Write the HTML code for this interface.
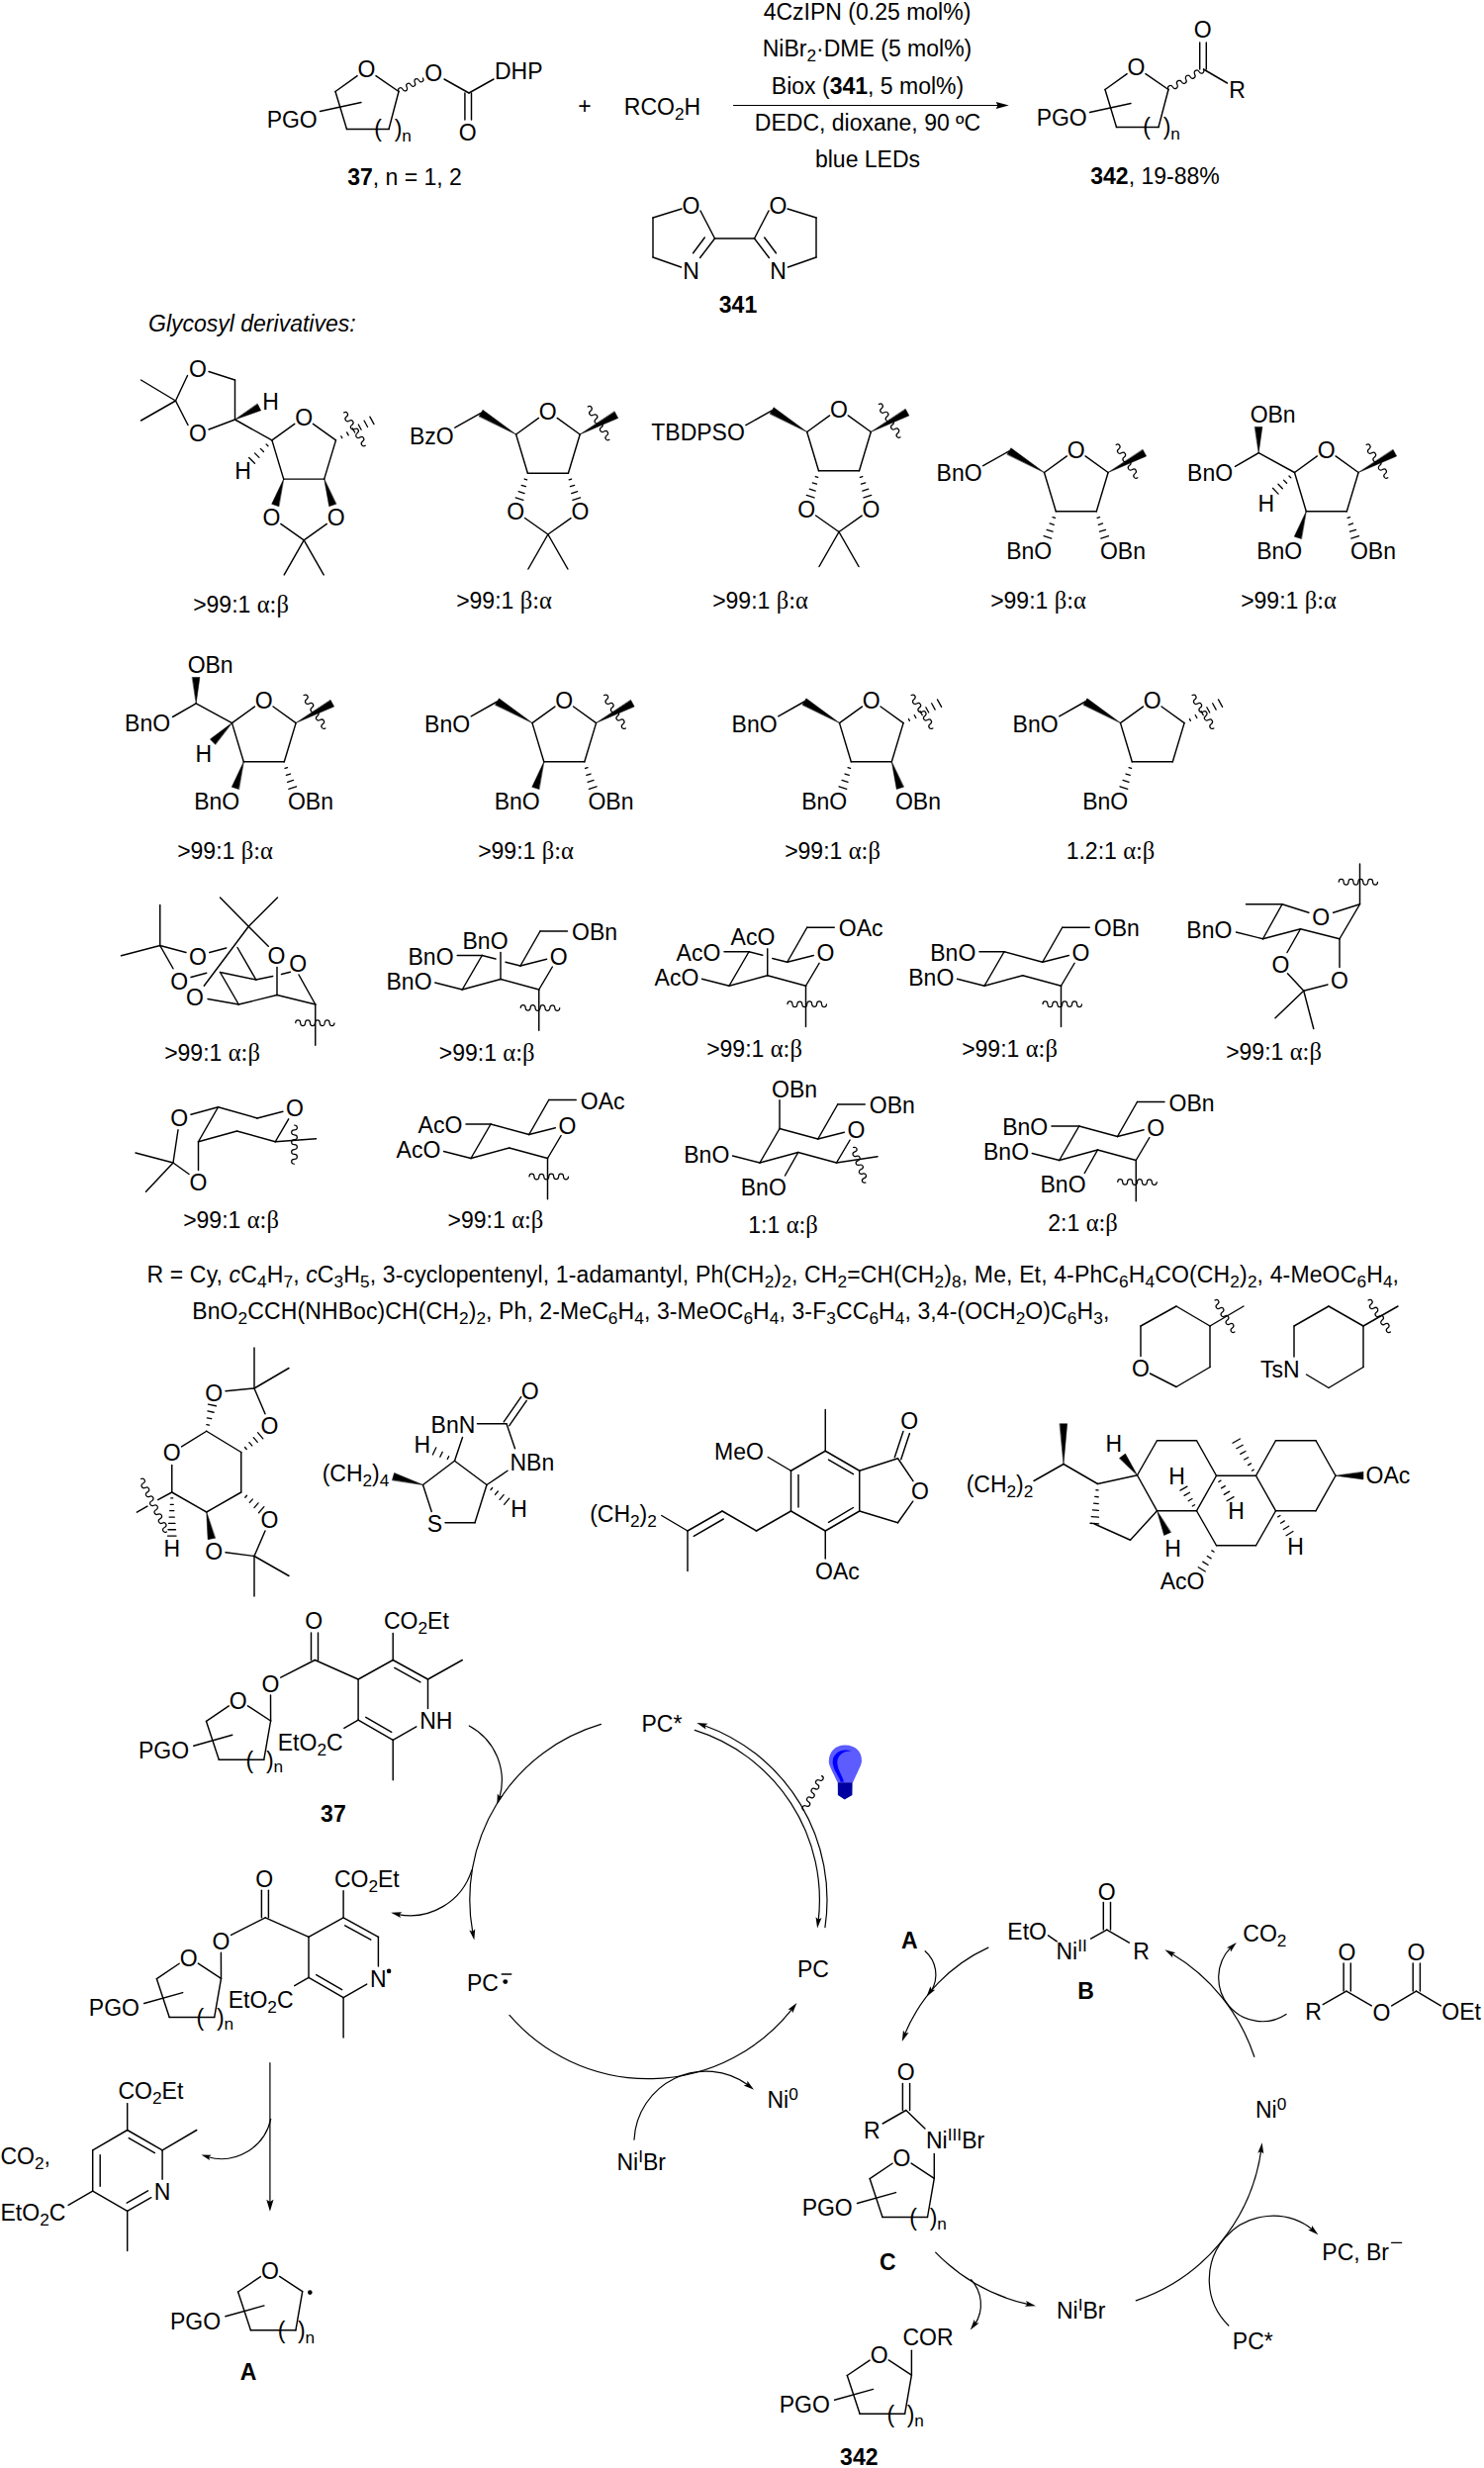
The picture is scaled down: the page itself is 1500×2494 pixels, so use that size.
<!DOCTYPE html>
<html><head><meta charset="utf-8"><title>Scheme</title><style>html,body{margin:0;padding:0;background:#fff}svg{display:block}</style></head><body>
<svg width="1500" height="2494" viewBox="0 0 1500 2494" font-family="'Liberation Sans', sans-serif" font-size="23" fill="#000" stroke="#000" stroke-width="1.45" stroke-linecap="round">
<text stroke="none" x="370.5" y="78.3" text-anchor="middle">O</text>
<line x1="379.96" y1="76.55" x2="403" y2="92.5"/>
<line x1="403" y1="92.5" x2="393" y2="130.5"/>
<line x1="393" y1="130.5" x2="350.5" y2="130.5"/>
<line x1="350.5" y1="130.5" x2="339" y2="92.5"/>
<line x1="339" y1="92.5" x2="361.14" y2="76.68"/>
<line x1="323.5" y1="112.5" x2="365" y2="103.5"/>
<text stroke="none" x="295.2" y="128.7" text-anchor="middle">PGO</text>
<text stroke="none" x="378.3" y="138.3">(</text>
<text stroke="none" x="398.7" y="138.3">)</text>
<text stroke="none" x="406.2" y="142.6" font-size="17.25">n</text>
<path d="M403 92.5 A2.33 2.85 -28.86 0 1 407.08 90.25 A2.33 2.85 -28.86 0 0 411.17 88 A2.33 2.85 -28.86 0 1 415.25 85.75 A2.33 2.85 -28.86 0 0 419.33 83.5 A2.33 2.85 -28.86 0 1 423.42 81.25 A2.33 2.85 -28.86 0 0 427.5 79" fill="none" stroke-width="1.2"/>
<text stroke="none" x="438.3" y="81.8" text-anchor="middle">O</text>
<line x1="449" y1="80" x2="474" y2="94"/>
<line x1="469.9" y1="94" x2="469.9" y2="121"/>
<line x1="476.5" y1="94" x2="476.5" y2="121"/>
<text stroke="none" x="472.7" y="142.3" text-anchor="middle">O</text>
<line x1="474" y1="94" x2="499" y2="80"/>
<text stroke="none" x="500" y="80.2">DHP</text>
<text stroke="none" x="409" y="187.3" text-anchor="middle"><tspan font-weight="bold" dy="0">37</tspan>, n = 1, 2</text>
<text stroke="none" x="591" y="115" text-anchor="middle">+</text>
<text stroke="none" x="669.5" y="116" text-anchor="middle">RCO<tspan font-size="17.25" dy="5">2</tspan><tspan dy="-5">H</tspan></text>
<line x1="741.5" y1="106.5" x2="1010" y2="106.5" stroke-width="1.2"/>
<polygon points="1019.8,106.5 1006.7,110.1 1008.4,106.5 1006.7,102.9" fill="#000" stroke="none"/>
<text stroke="none" x="876.5" y="20" text-anchor="middle">4CzIPN (0.25 mol%)</text>
<text stroke="none" x="876.5" y="57.4" text-anchor="middle">NiBr<tspan font-size="17.25" dy="5">2</tspan><tspan dy="-5">·DME (5 mol%)</tspan></text>
<text stroke="none" x="877" y="95.4" text-anchor="middle">Biox (<tspan font-weight="bold" dy="0">341</tspan>, 5 mol%)</text>
<text stroke="none" x="877" y="131.5" text-anchor="middle">DEDC, dioxane, 90 ºC</text>
<text stroke="none" x="877" y="169" text-anchor="middle">blue LEDs</text>
<text stroke="none" x="1148.5" y="76.3" text-anchor="middle">O</text>
<line x1="1157.96" y1="74.55" x2="1181" y2="90.5"/>
<line x1="1181" y1="90.5" x2="1171" y2="128.5"/>
<line x1="1171" y1="128.5" x2="1128.5" y2="128.5"/>
<line x1="1128.5" y1="128.5" x2="1117" y2="90.5"/>
<line x1="1117" y1="90.5" x2="1139.14" y2="74.68"/>
<line x1="1101.5" y1="113.5" x2="1143" y2="104.5"/>
<text stroke="none" x="1073.2" y="126.7" text-anchor="middle">PGO</text>
<text stroke="none" x="1155.3" y="136.3">(</text>
<text stroke="none" x="1175.7" y="136.3">)</text>
<text stroke="none" x="1183.2" y="140.6" font-size="17.25">n</text>
<path d="M1181 90.5 A2.56 2.85 -30 0 1 1185.44 87.94 A2.56 2.85 -30 0 0 1189.88 85.38 A2.56 2.85 -30 0 1 1194.31 82.81 A2.56 2.85 -30 0 0 1198.75 80.25 A2.56 2.85 -30 0 1 1203.19 77.69 A2.56 2.85 -30 0 0 1207.62 75.12 A2.56 2.85 -30 0 1 1212.06 72.56 A2.56 2.85 -30 0 0 1216.5 70" fill="none" stroke-width="1.2"/>
<line x1="1219.3" y1="70" x2="1219.3" y2="43"/>
<line x1="1212.7" y1="70" x2="1212.7" y2="43"/>
<text stroke="none" x="1215.8" y="38.3" text-anchor="middle">O</text>
<line x1="1216.5" y1="70" x2="1240.5" y2="84"/>
<text stroke="none" x="1250.5" y="98.5" text-anchor="middle">R</text>
<text stroke="none" x="1167.5" y="186" text-anchor="middle"><tspan font-weight="bold" dy="0">342</tspan>, 19-88%</text>
<text stroke="none" x="698.5" y="215.8" text-anchor="middle">O</text>
<text stroke="none" x="698.5" y="282.3" text-anchor="middle">N</text>
<text stroke="none" x="786.5" y="215.8" text-anchor="middle">O</text>
<text stroke="none" x="786.5" y="282.3" text-anchor="middle">N</text>
<line x1="722.5" y1="241" x2="762.5" y2="241"/>
<line x1="708" y1="213" x2="722.5" y2="241"/>
<line x1="689" y1="211" x2="660" y2="220"/>
<line x1="660" y1="220" x2="660" y2="260"/>
<line x1="660" y1="260" x2="688.5" y2="270"/>
<line x1="722.5" y1="241" x2="707.6" y2="260.5"/>
<line x1="712.3" y1="240" x2="700.6" y2="255.8"/>
<line x1="777" y1="213" x2="762.5" y2="241"/>
<line x1="796" y1="211" x2="825" y2="220"/>
<line x1="825" y1="220" x2="825" y2="260"/>
<line x1="825" y1="260" x2="796.5" y2="270"/>
<line x1="762.5" y1="241" x2="777.4" y2="260.5"/>
<line x1="772.7" y1="240" x2="784.4" y2="255.8"/>
<text stroke="none" x="746" y="316" text-anchor="middle" font-weight="bold">341</text>
<text stroke="none" x="150" y="335.3" font-style="italic">Glycosyl derivatives:</text>
<line x1="297.78" y1="428.34" x2="274.9" y2="444.9"/>
<line x1="316.44" y1="428.31" x2="339.5" y2="444.9"/>
<text stroke="none" x="307.1" y="429.9" text-anchor="middle">O</text>
<line x1="339.5" y1="444.9" x2="327.7" y2="484.1"/>
<line x1="327.7" y1="484.1" x2="286.7" y2="484.1"/>
<line x1="286.7" y1="484.1" x2="274.9" y2="444.9"/>
<polygon points="286.7,484.1 274.68,509.37 281.72,511.63" fill="#000" stroke="#000" stroke-width="0.5" stroke-linejoin="round"/>
<polygon points="327.7,484.1 332.68,511.63 339.72,509.37" fill="#000" stroke="#000" stroke-width="0.5" stroke-linejoin="round"/>
<text stroke="none" x="274.4" y="531.1" text-anchor="middle">O</text>
<text stroke="none" x="339.7" y="531.1" text-anchor="middle">O</text>
<line x1="283.8" y1="529.42" x2="307.2" y2="545.9"/>
<line x1="330.33" y1="529.46" x2="307.2" y2="545.9"/>
<line x1="307.2" y1="545.9" x2="287.2" y2="580.9"/>
<line x1="307.2" y1="545.9" x2="327.2" y2="580.9"/>
<line x1="345.79" y1="442.65" x2="344.77" y2="440.8" stroke-width="1.3"/>
<line x1="352.24" y1="439.85" x2="350.59" y2="436.86" stroke-width="1.3"/>
<line x1="358.68" y1="437.06" x2="356.42" y2="432.93" stroke-width="1.3"/>
<line x1="365.13" y1="434.26" x2="362.24" y2="429" stroke-width="1.3"/>
<line x1="371.57" y1="431.46" x2="368.06" y2="425.06" stroke-width="1.3"/>
<line x1="378.01" y1="428.66" x2="373.88" y2="421.13" stroke-width="1.3"/>
<path d="M347.5 416.9 A2.49 2.85 56.79 0 1 350.23 421.06 A2.49 2.85 56.79 0 0 352.95 425.22 A2.49 2.85 56.79 0 1 355.68 429.39 A2.49 2.85 56.79 0 0 358.4 433.55 A2.49 2.85 56.79 0 1 361.12 437.71 A2.49 2.85 56.79 0 0 363.85 441.88 A2.49 2.85 56.79 0 1 366.57 446.04 A2.49 2.85 56.79 0 0 369.3 450.2" fill="none" stroke-width="1.2"/>
<line x1="237.5" y1="424" x2="274.9" y2="444.9"/>
<line x1="269.1" y1="448.86" x2="270.97" y2="450.72" stroke-width="1.3"/>
<line x1="263.29" y1="453.38" x2="266.47" y2="456.55" stroke-width="1.3"/>
<line x1="257.49" y1="457.91" x2="261.98" y2="462.37" stroke-width="1.3"/>
<line x1="251.68" y1="462.43" x2="257.48" y2="468.2" stroke-width="1.3"/>
<text stroke="none" x="245.5" y="484.3" text-anchor="middle">H</text>
<polygon points="237.5,424 263.68,414.8 260.32,408.2" fill="#000" stroke="#000" stroke-width="0.5" stroke-linejoin="round"/>
<text stroke="none" x="273.5" y="414.3" text-anchor="middle">H</text>
<text stroke="none" x="200" y="380.8" text-anchor="middle">O</text>
<text stroke="none" x="200" y="445.8" text-anchor="middle">O</text>
<line x1="237.5" y1="424" x2="237.5" y2="384"/>
<line x1="237.5" y1="384" x2="211" y2="375.5"/>
<line x1="189.5" y1="379.5" x2="177.5" y2="405"/>
<line x1="177.5" y1="405" x2="190" y2="429.5"/>
<line x1="211" y1="434" x2="237.5" y2="424"/>
<line x1="177.5" y1="405" x2="142.5" y2="384"/>
<line x1="177.5" y1="405" x2="142.5" y2="425"/>
<text stroke="none" x="243.5" y="618.9" text-anchor="middle">&gt;99:1 <tspan font-family="'Liberation Serif', serif" font-size="24.5">α:β</tspan></text>
<line x1="544.48" y1="422.44" x2="521.6" y2="439"/>
<line x1="563.14" y1="422.41" x2="586.2" y2="439"/>
<text stroke="none" x="553.8" y="424" text-anchor="middle">O</text>
<line x1="586.2" y1="439" x2="574.4" y2="478.2"/>
<line x1="574.4" y1="478.2" x2="533.4" y2="478.2"/>
<line x1="533.4" y1="478.2" x2="521.6" y2="439"/>
<line x1="530.15" y1="484.02" x2="532.65" y2="484.82" stroke-width="1.3"/>
<line x1="527.15" y1="490.34" x2="531.4" y2="491.7" stroke-width="1.3"/>
<line x1="524.15" y1="496.65" x2="530.14" y2="498.58" stroke-width="1.3"/>
<line x1="521.15" y1="502.97" x2="528.89" y2="505.46" stroke-width="1.3"/>
<line x1="575.15" y1="484.82" x2="577.65" y2="484.02" stroke-width="1.3"/>
<line x1="576.4" y1="491.7" x2="580.65" y2="490.34" stroke-width="1.3"/>
<line x1="577.66" y1="498.58" x2="583.65" y2="496.65" stroke-width="1.3"/>
<line x1="578.91" y1="505.46" x2="586.65" y2="502.97" stroke-width="1.3"/>
<text stroke="none" x="521.1" y="525.2" text-anchor="middle">O</text>
<text stroke="none" x="586.4" y="525.2" text-anchor="middle">O</text>
<line x1="530.5" y1="523.52" x2="553.9" y2="540"/>
<line x1="577.03" y1="523.56" x2="553.9" y2="540"/>
<line x1="553.9" y1="540" x2="533.9" y2="575"/>
<line x1="553.9" y1="540" x2="573.9" y2="575"/>
<polygon points="586.2,439 624.75,422.46 621.25,415.94" fill="#000" stroke="#000" stroke-width="0.5" stroke-linejoin="round"/>
<path d="M594.2 411 A2.49 2.85 56.79 0 1 596.93 415.16 A2.49 2.85 56.79 0 0 599.65 419.32 A2.49 2.85 56.79 0 1 602.38 423.49 A2.49 2.85 56.79 0 0 605.1 427.65 A2.49 2.85 56.79 0 1 607.83 431.81 A2.49 2.85 56.79 0 0 610.55 435.98 A2.49 2.85 56.79 0 1 613.27 440.14 A2.49 2.85 56.79 0 0 616 444.3" fill="none" stroke-width="1.2"/>
<polygon points="521.6,439 488.02,414.24 484.18,420.56" fill="#000" stroke="#000" stroke-width="0.5" stroke-linejoin="round"/>
<line x1="486.1" y1="417.4" x2="459.8" y2="432.2"/>
<text stroke="none" x="458.75" y="449.2" text-anchor="end">BzO</text>
<text stroke="none" x="509.5" y="615.4" text-anchor="middle">&gt;99:1 <tspan font-family="'Liberation Serif', serif" font-size="24.5">β:α</tspan></text>
<line x1="838.58" y1="419.94" x2="815.7" y2="436.5"/>
<line x1="857.24" y1="419.91" x2="880.3" y2="436.5"/>
<text stroke="none" x="847.9" y="421.5" text-anchor="middle">O</text>
<line x1="880.3" y1="436.5" x2="868.5" y2="475.7"/>
<line x1="868.5" y1="475.7" x2="827.5" y2="475.7"/>
<line x1="827.5" y1="475.7" x2="815.7" y2="436.5"/>
<line x1="824.25" y1="481.52" x2="826.75" y2="482.32" stroke-width="1.3"/>
<line x1="821.25" y1="487.84" x2="825.5" y2="489.2" stroke-width="1.3"/>
<line x1="818.25" y1="494.15" x2="824.24" y2="496.08" stroke-width="1.3"/>
<line x1="815.25" y1="500.47" x2="822.99" y2="502.96" stroke-width="1.3"/>
<line x1="869.25" y1="482.32" x2="871.75" y2="481.52" stroke-width="1.3"/>
<line x1="870.5" y1="489.2" x2="874.75" y2="487.84" stroke-width="1.3"/>
<line x1="871.76" y1="496.08" x2="877.75" y2="494.15" stroke-width="1.3"/>
<line x1="873.01" y1="502.96" x2="880.75" y2="500.47" stroke-width="1.3"/>
<text stroke="none" x="815.2" y="522.7" text-anchor="middle">O</text>
<text stroke="none" x="880.5" y="522.7" text-anchor="middle">O</text>
<line x1="824.6" y1="521.02" x2="848" y2="537.5"/>
<line x1="871.13" y1="521.06" x2="848" y2="537.5"/>
<line x1="848" y1="537.5" x2="828" y2="572.5"/>
<line x1="848" y1="537.5" x2="868" y2="572.5"/>
<polygon points="880.3,436.5 918.85,419.96 915.35,413.44" fill="#000" stroke="#000" stroke-width="0.5" stroke-linejoin="round"/>
<path d="M888.3 408.5 A2.49 2.85 56.79 0 1 891.03 412.66 A2.49 2.85 56.79 0 0 893.75 416.82 A2.49 2.85 56.79 0 1 896.48 420.99 A2.49 2.85 56.79 0 0 899.2 425.15 A2.49 2.85 56.79 0 1 901.93 429.31 A2.49 2.85 56.79 0 0 904.65 433.48 A2.49 2.85 56.79 0 1 907.38 437.64 A2.49 2.85 56.79 0 0 910.1 441.8" fill="none" stroke-width="1.2"/>
<polygon points="815.7,436.5 782.12,411.74 778.28,418.06" fill="#000" stroke="#000" stroke-width="0.5" stroke-linejoin="round"/>
<line x1="780.2" y1="414.9" x2="753.9" y2="429.7"/>
<text stroke="none" x="752.85" y="445.4" text-anchor="end">TBDPSO</text>
<text stroke="none" x="768.5" y="615.4" text-anchor="middle">&gt;99:1 <tspan font-family="'Liberation Serif', serif" font-size="24.5">β:α</tspan></text>
<line x1="1078.38" y1="460.94" x2="1055.5" y2="477.5"/>
<line x1="1097.04" y1="460.91" x2="1120.1" y2="477.5"/>
<text stroke="none" x="1087.7" y="462.5" text-anchor="middle">O</text>
<line x1="1120.1" y1="477.5" x2="1108.3" y2="516.7"/>
<line x1="1108.3" y1="516.7" x2="1067.3" y2="516.7"/>
<line x1="1067.3" y1="516.7" x2="1055.5" y2="477.5"/>
<polygon points="1120.1,477.5 1158.65,460.96 1155.15,454.44" fill="#000" stroke="#000" stroke-width="0.5" stroke-linejoin="round"/>
<path d="M1128.1 449.5 A2.49 2.85 56.79 0 1 1130.82 453.66 A2.49 2.85 56.79 0 0 1133.55 457.82 A2.49 2.85 56.79 0 1 1136.27 461.99 A2.49 2.85 56.79 0 0 1139 466.15 A2.49 2.85 56.79 0 1 1141.72 470.31 A2.49 2.85 56.79 0 0 1144.45 474.48 A2.49 2.85 56.79 0 1 1147.17 478.64 A2.49 2.85 56.79 0 0 1149.9 482.8" fill="none" stroke-width="1.2"/>
<polygon points="1055.5,477.5 1021.92,452.74 1018.08,459.06" fill="#000" stroke="#000" stroke-width="0.5" stroke-linejoin="round"/>
<line x1="1020" y1="455.9" x2="993.7" y2="470.7"/>
<text stroke="none" x="992.65" y="486.4" text-anchor="end">BnO</text>
<line x1="1064.04" y1="522.57" x2="1066.55" y2="523.37" stroke-width="1.3"/>
<line x1="1061.05" y1="528.94" x2="1065.3" y2="530.3" stroke-width="1.3"/>
<line x1="1058.05" y1="535.31" x2="1064.05" y2="537.23" stroke-width="1.3"/>
<line x1="1055.05" y1="541.68" x2="1062.8" y2="544.16" stroke-width="1.3"/>
<text stroke="none" x="1063.25" y="564.6" text-anchor="end">BnO</text>
<line x1="1109.05" y1="523.37" x2="1111.56" y2="522.57" stroke-width="1.3"/>
<line x1="1110.3" y1="530.3" x2="1114.55" y2="528.94" stroke-width="1.3"/>
<line x1="1111.55" y1="537.23" x2="1117.55" y2="535.31" stroke-width="1.3"/>
<line x1="1112.8" y1="544.16" x2="1120.55" y2="541.68" stroke-width="1.3"/>
<text stroke="none" x="1111.95" y="564.6">OBn</text>
<text stroke="none" x="1049.5" y="615.4" text-anchor="middle">&gt;99:1 <tspan font-family="'Liberation Serif', serif" font-size="24.5">β:α</tspan></text>
<line x1="1331.38" y1="460.94" x2="1308.5" y2="477.5"/>
<line x1="1350.04" y1="460.91" x2="1373.1" y2="477.5"/>
<text stroke="none" x="1340.7" y="462.5" text-anchor="middle">O</text>
<line x1="1373.1" y1="477.5" x2="1361.3" y2="516.7"/>
<line x1="1361.3" y1="516.7" x2="1320.3" y2="516.7"/>
<line x1="1320.3" y1="516.7" x2="1308.5" y2="477.5"/>
<polygon points="1373.1,477.5 1411.65,460.96 1408.15,454.44" fill="#000" stroke="#000" stroke-width="0.5" stroke-linejoin="round"/>
<path d="M1381.1 449.5 A2.49 2.85 56.79 0 1 1383.82 453.66 A2.49 2.85 56.79 0 0 1386.55 457.82 A2.49 2.85 56.79 0 1 1389.27 461.99 A2.49 2.85 56.79 0 0 1392 466.15 A2.49 2.85 56.79 0 1 1394.72 470.31 A2.49 2.85 56.79 0 0 1397.45 474.48 A2.49 2.85 56.79 0 1 1400.17 478.64 A2.49 2.85 56.79 0 0 1402.9 482.8" fill="none" stroke-width="1.2"/>
<line x1="1308.5" y1="477.5" x2="1272.2" y2="457.7"/>
<polygon points="1272.2,457.7 1275.9,431.4 1268.5,431.4" fill="#000" stroke="#000" stroke-width="0.5" stroke-linejoin="round"/>
<text stroke="none" x="1263.65" y="426.7">OBn</text>
<line x1="1272.2" y1="457.7" x2="1248.5" y2="471.4"/>
<text stroke="none" x="1246.15" y="485.5" text-anchor="end">BnO</text>
<line x1="1303" y1="481.03" x2="1304.83" y2="482.91" stroke-width="1.3"/>
<line x1="1297.48" y1="485.13" x2="1300.59" y2="488.31" stroke-width="1.3"/>
<line x1="1291.97" y1="489.22" x2="1296.35" y2="493.72" stroke-width="1.3"/>
<line x1="1286.46" y1="493.32" x2="1292.12" y2="499.12" stroke-width="1.3"/>
<text stroke="none" x="1279.7" y="516.6" text-anchor="middle">H</text>
<polygon points="1320.3,516.7 1308.28,542.17 1315.32,544.43" fill="#000" stroke="#000" stroke-width="0.5" stroke-linejoin="round"/>
<text stroke="none" x="1316.25" y="564.6" text-anchor="end">BnO</text>
<line x1="1362.05" y1="523.37" x2="1364.56" y2="522.57" stroke-width="1.3"/>
<line x1="1363.3" y1="530.3" x2="1367.55" y2="528.94" stroke-width="1.3"/>
<line x1="1364.55" y1="537.23" x2="1370.55" y2="535.31" stroke-width="1.3"/>
<line x1="1365.8" y1="544.16" x2="1373.55" y2="541.68" stroke-width="1.3"/>
<text stroke="none" x="1364.95" y="564.6">OBn</text>
<text stroke="none" x="1302.5" y="615.4" text-anchor="middle">&gt;99:1 <tspan font-family="'Liberation Serif', serif" font-size="24.5">β:α</tspan></text>
<line x1="257.38" y1="714.04" x2="234.5" y2="730.6"/>
<line x1="276.04" y1="714.01" x2="299.1" y2="730.6"/>
<text stroke="none" x="266.7" y="715.6" text-anchor="middle">O</text>
<line x1="299.1" y1="730.6" x2="287.3" y2="769.8"/>
<line x1="287.3" y1="769.8" x2="246.3" y2="769.8"/>
<line x1="246.3" y1="769.8" x2="234.5" y2="730.6"/>
<polygon points="299.1,730.6 337.65,714.06 334.15,707.54" fill="#000" stroke="#000" stroke-width="0.5" stroke-linejoin="round"/>
<path d="M307.1 702.6 A2.49 2.85 56.79 0 1 309.83 706.76 A2.49 2.85 56.79 0 0 312.55 710.92 A2.49 2.85 56.79 0 1 315.28 715.09 A2.49 2.85 56.79 0 0 318 719.25 A2.49 2.85 56.79 0 1 320.73 723.41 A2.49 2.85 56.79 0 0 323.45 727.57 A2.49 2.85 56.79 0 1 326.18 731.74 A2.49 2.85 56.79 0 0 328.9 735.9" fill="none" stroke-width="1.2"/>
<line x1="234.5" y1="730.6" x2="198.2" y2="710.8"/>
<polygon points="198.2,710.8 201.9,684.5 194.5,684.5" fill="#000" stroke="#000" stroke-width="0.5" stroke-linejoin="round"/>
<text stroke="none" x="189.65" y="679.8">OBn</text>
<line x1="198.2" y1="710.8" x2="174.5" y2="724.5"/>
<text stroke="none" x="172.15" y="738.6" text-anchor="end">BnO</text>
<polygon points="234.5,730.6 212.42,746.95 217.58,752.25" fill="#000" stroke="#000" stroke-width="0.5" stroke-linejoin="round"/>
<text stroke="none" x="205.7" y="769.7" text-anchor="middle">H</text>
<polygon points="246.3,769.8 234.28,795.27 241.32,797.53" fill="#000" stroke="#000" stroke-width="0.5" stroke-linejoin="round"/>
<text stroke="none" x="242.25" y="817.7" text-anchor="end">BnO</text>
<line x1="288.05" y1="776.47" x2="290.56" y2="775.67" stroke-width="1.3"/>
<line x1="289.3" y1="783.4" x2="293.55" y2="782.04" stroke-width="1.3"/>
<line x1="290.55" y1="790.33" x2="296.55" y2="788.41" stroke-width="1.3"/>
<line x1="291.8" y1="797.26" x2="299.55" y2="794.78" stroke-width="1.3"/>
<text stroke="none" x="290.95" y="817.7">OBn</text>
<text stroke="none" x="227.5" y="867.7" text-anchor="middle">&gt;99:1 <tspan font-family="'Liberation Serif', serif" font-size="24.5">β:α</tspan></text>
<line x1="560.88" y1="714.04" x2="538" y2="730.6"/>
<line x1="579.54" y1="714.01" x2="602.6" y2="730.6"/>
<text stroke="none" x="570.2" y="715.6" text-anchor="middle">O</text>
<line x1="602.6" y1="730.6" x2="590.8" y2="769.8"/>
<line x1="590.8" y1="769.8" x2="549.8" y2="769.8"/>
<line x1="549.8" y1="769.8" x2="538" y2="730.6"/>
<polygon points="602.6,730.6 641.15,714.06 637.65,707.54" fill="#000" stroke="#000" stroke-width="0.5" stroke-linejoin="round"/>
<path d="M610.6 702.6 A2.49 2.85 56.79 0 1 613.33 706.76 A2.49 2.85 56.79 0 0 616.05 710.92 A2.49 2.85 56.79 0 1 618.77 715.09 A2.49 2.85 56.79 0 0 621.5 719.25 A2.49 2.85 56.79 0 1 624.23 723.41 A2.49 2.85 56.79 0 0 626.95 727.57 A2.49 2.85 56.79 0 1 629.67 731.74 A2.49 2.85 56.79 0 0 632.4 735.9" fill="none" stroke-width="1.2"/>
<polygon points="538,730.6 504.42,705.84 500.58,712.16" fill="#000" stroke="#000" stroke-width="0.5" stroke-linejoin="round"/>
<line x1="502.5" y1="709" x2="476.2" y2="723.8"/>
<text stroke="none" x="475.15" y="739.5" text-anchor="end">BnO</text>
<polygon points="549.8,769.8 537.78,795.27 544.82,797.53" fill="#000" stroke="#000" stroke-width="0.5" stroke-linejoin="round"/>
<text stroke="none" x="545.75" y="817.7" text-anchor="end">BnO</text>
<line x1="591.55" y1="776.47" x2="594.06" y2="775.67" stroke-width="1.3"/>
<line x1="592.8" y1="783.4" x2="597.05" y2="782.04" stroke-width="1.3"/>
<line x1="594.05" y1="790.33" x2="600.05" y2="788.41" stroke-width="1.3"/>
<line x1="595.3" y1="797.26" x2="603.05" y2="794.78" stroke-width="1.3"/>
<text stroke="none" x="594.45" y="817.7">OBn</text>
<text stroke="none" x="531.5" y="867.7" text-anchor="middle">&gt;99:1 <tspan font-family="'Liberation Serif', serif" font-size="24.5">β:α</tspan></text>
<line x1="871.38" y1="714.04" x2="848.5" y2="730.6"/>
<line x1="890.04" y1="714.01" x2="913.1" y2="730.6"/>
<text stroke="none" x="880.7" y="715.6" text-anchor="middle">O</text>
<line x1="913.1" y1="730.6" x2="901.3" y2="769.8"/>
<line x1="901.3" y1="769.8" x2="860.3" y2="769.8"/>
<line x1="860.3" y1="769.8" x2="848.5" y2="730.6"/>
<line x1="919.39" y1="728.35" x2="918.37" y2="726.5" stroke-width="1.3"/>
<line x1="925.84" y1="725.55" x2="924.19" y2="722.56" stroke-width="1.3"/>
<line x1="932.28" y1="722.76" x2="930.02" y2="718.63" stroke-width="1.3"/>
<line x1="938.73" y1="719.96" x2="935.84" y2="714.7" stroke-width="1.3"/>
<line x1="945.17" y1="717.16" x2="941.66" y2="710.76" stroke-width="1.3"/>
<line x1="951.61" y1="714.36" x2="947.48" y2="706.83" stroke-width="1.3"/>
<path d="M921.1 702.6 A2.49 2.85 56.79 0 1 923.83 706.76 A2.49 2.85 56.79 0 0 926.55 710.92 A2.49 2.85 56.79 0 1 929.27 715.09 A2.49 2.85 56.79 0 0 932 719.25 A2.49 2.85 56.79 0 1 934.73 723.41 A2.49 2.85 56.79 0 0 937.45 727.57 A2.49 2.85 56.79 0 1 940.17 731.74 A2.49 2.85 56.79 0 0 942.9 735.9" fill="none" stroke-width="1.2"/>
<polygon points="848.5,730.6 814.92,705.84 811.08,712.16" fill="#000" stroke="#000" stroke-width="0.5" stroke-linejoin="round"/>
<line x1="813" y1="709" x2="786.7" y2="723.8"/>
<text stroke="none" x="785.65" y="739.5" text-anchor="end">BnO</text>
<line x1="857.04" y1="775.67" x2="859.55" y2="776.47" stroke-width="1.3"/>
<line x1="854.05" y1="782.04" x2="858.3" y2="783.4" stroke-width="1.3"/>
<line x1="851.05" y1="788.41" x2="857.05" y2="790.33" stroke-width="1.3"/>
<line x1="848.05" y1="794.78" x2="855.8" y2="797.26" stroke-width="1.3"/>
<text stroke="none" x="856.25" y="817.7" text-anchor="end">BnO</text>
<polygon points="901.3,769.8 906.28,797.53 913.32,795.27" fill="#000" stroke="#000" stroke-width="0.5" stroke-linejoin="round"/>
<text stroke="none" x="904.95" y="817.7">OBn</text>
<text stroke="none" x="841.5" y="867.7" text-anchor="middle">&gt;99:1 <tspan font-family="'Liberation Serif', serif" font-size="24.5">α:β</tspan></text>
<line x1="1155.38" y1="714.04" x2="1132.5" y2="730.6"/>
<line x1="1174.04" y1="714.01" x2="1197.1" y2="730.6"/>
<text stroke="none" x="1164.7" y="715.6" text-anchor="middle">O</text>
<line x1="1197.1" y1="730.6" x2="1185.3" y2="769.8"/>
<line x1="1185.3" y1="769.8" x2="1144.3" y2="769.8"/>
<line x1="1144.3" y1="769.8" x2="1132.5" y2="730.6"/>
<line x1="1203.39" y1="728.35" x2="1202.37" y2="726.5" stroke-width="1.3"/>
<line x1="1209.84" y1="725.55" x2="1208.19" y2="722.56" stroke-width="1.3"/>
<line x1="1216.28" y1="722.76" x2="1214.02" y2="718.63" stroke-width="1.3"/>
<line x1="1222.73" y1="719.96" x2="1219.84" y2="714.7" stroke-width="1.3"/>
<line x1="1229.17" y1="717.16" x2="1225.66" y2="710.76" stroke-width="1.3"/>
<line x1="1235.61" y1="714.36" x2="1231.48" y2="706.83" stroke-width="1.3"/>
<path d="M1205.1 702.6 A2.49 2.85 56.79 0 1 1207.82 706.76 A2.49 2.85 56.79 0 0 1210.55 710.92 A2.49 2.85 56.79 0 1 1213.27 715.09 A2.49 2.85 56.79 0 0 1216 719.25 A2.49 2.85 56.79 0 1 1218.72 723.41 A2.49 2.85 56.79 0 0 1221.45 727.57 A2.49 2.85 56.79 0 1 1224.17 731.74 A2.49 2.85 56.79 0 0 1226.9 735.9" fill="none" stroke-width="1.2"/>
<polygon points="1132.5,730.6 1098.92,705.84 1095.08,712.16" fill="#000" stroke="#000" stroke-width="0.5" stroke-linejoin="round"/>
<line x1="1097" y1="709" x2="1070.7" y2="723.8"/>
<text stroke="none" x="1069.65" y="739.5" text-anchor="end">BnO</text>
<line x1="1141.04" y1="775.67" x2="1143.55" y2="776.47" stroke-width="1.3"/>
<line x1="1138.05" y1="782.04" x2="1142.3" y2="783.4" stroke-width="1.3"/>
<line x1="1135.05" y1="788.41" x2="1141.05" y2="790.33" stroke-width="1.3"/>
<line x1="1132.05" y1="794.78" x2="1139.8" y2="797.26" stroke-width="1.3"/>
<text stroke="none" x="1140.25" y="817.7" text-anchor="end">BnO</text>
<text stroke="none" x="1122.5" y="867.7" text-anchor="middle">1.2:1 <tspan font-family="'Liberation Serif', serif" font-size="24.5">α:β</tspan></text>
<text stroke="none" x="564.75" y="975.05" text-anchor="middle">O</text>
<line x1="544.75" y1="1000" x2="506" y2="989.5"/>
<line x1="506" y1="989.5" x2="467.25" y2="1000"/>
<line x1="467.25" y1="1000" x2="487.25" y2="965.5"/>
<line x1="558.38" y1="977" x2="544.75" y2="1000"/>
<line x1="552.63" y1="969.3" x2="526" y2="976"/>
<line x1="526" y1="976" x2="511" y2="972.2"/>
<line x1="501" y1="969" x2="487.25" y2="965.5"/>
<line x1="506" y1="989.5" x2="506" y2="962.5"/>
<text stroke="none" x="513.55" y="958.5" text-anchor="end">BnO</text>
<line x1="487.25" y1="965.5" x2="462.25" y2="965.5"/>
<text stroke="none" x="458.55" y="974.7" text-anchor="end">BnO</text>
<line x1="467.25" y1="1000" x2="439.75" y2="993"/>
<text stroke="none" x="436.55" y="999.75" text-anchor="end">BnO</text>
<line x1="526" y1="976" x2="546" y2="941"/>
<line x1="546" y1="941" x2="573.5" y2="941"/>
<text stroke="none" x="578.05" y="950.2">OBn</text>
<line x1="544.75" y1="1000" x2="544.75" y2="1041.25"/>
<path d="M526.25 1018.5 A2.47 2.85 0 0 1 531.19 1018.5 A2.47 2.85 0 0 0 536.12 1018.5 A2.47 2.85 0 0 1 541.06 1018.5 A2.47 2.85 0 0 0 546 1018.5 A2.47 2.85 0 0 1 550.94 1018.5 A2.47 2.85 0 0 0 555.88 1018.5 A2.47 2.85 0 0 1 560.81 1018.5 A2.47 2.85 0 0 0 565.75 1018.5" fill="none" stroke-width="1.2"/>
<text stroke="none" x="492.1" y="1071.9" text-anchor="middle">&gt;99:1 <tspan font-family="'Liberation Serif', serif" font-size="24.5">α:β</tspan></text>
<text stroke="none" x="834.5" y="971.3" text-anchor="middle">O</text>
<line x1="814.5" y1="996.25" x2="775.75" y2="985.75"/>
<line x1="775.75" y1="985.75" x2="737" y2="996.25"/>
<line x1="737" y1="996.25" x2="757" y2="961.75"/>
<line x1="828.13" y1="973.25" x2="814.5" y2="996.25"/>
<line x1="822.38" y1="965.55" x2="795.75" y2="972.25"/>
<line x1="795.75" y1="972.25" x2="780.75" y2="968.45"/>
<line x1="770.75" y1="965.25" x2="757" y2="961.75"/>
<line x1="775.75" y1="985.75" x2="775.75" y2="958.75"/>
<text stroke="none" x="783.3" y="954.75" text-anchor="end">AcO</text>
<line x1="757" y1="961.75" x2="732" y2="961.75"/>
<text stroke="none" x="728.3" y="970.95" text-anchor="end">AcO</text>
<line x1="737" y1="996.25" x2="709.5" y2="989.25"/>
<text stroke="none" x="706.3" y="996" text-anchor="end">AcO</text>
<line x1="795.75" y1="972.25" x2="815.75" y2="937.25"/>
<line x1="815.75" y1="937.25" x2="843.25" y2="937.25"/>
<text stroke="none" x="847.8" y="946.45">OAc</text>
<line x1="814.5" y1="996.25" x2="814.5" y2="1037.5"/>
<path d="M796 1014.75 A2.47 2.85 0 0 1 800.94 1014.75 A2.47 2.85 0 0 0 805.88 1014.75 A2.47 2.85 0 0 1 810.81 1014.75 A2.47 2.85 0 0 0 815.75 1014.75 A2.47 2.85 0 0 1 820.69 1014.75 A2.47 2.85 0 0 0 825.62 1014.75 A2.47 2.85 0 0 1 830.56 1014.75 A2.47 2.85 0 0 0 835.5 1014.75" fill="none" stroke-width="1.2"/>
<text stroke="none" x="762.5" y="1068.4" text-anchor="middle">&gt;99:1 <tspan font-family="'Liberation Serif', serif" font-size="24.5">α:β</tspan></text>
<text stroke="none" x="1092.5" y="971.3" text-anchor="middle">O</text>
<line x1="1072.5" y1="996.25" x2="1033.75" y2="985.75"/>
<line x1="1033.75" y1="985.75" x2="995" y2="996.25"/>
<line x1="995" y1="996.25" x2="1015" y2="961.75"/>
<line x1="1086.13" y1="973.25" x2="1072.5" y2="996.25"/>
<line x1="1080.38" y1="965.55" x2="1053.75" y2="972.25"/>
<line x1="1053.75" y1="972.25" x2="1015" y2="961.75"/>
<line x1="1015" y1="961.75" x2="990" y2="961.75"/>
<text stroke="none" x="986.3" y="970.95" text-anchor="end">BnO</text>
<line x1="995" y1="996.25" x2="967.5" y2="989.25"/>
<text stroke="none" x="964.3" y="996" text-anchor="end">BnO</text>
<line x1="1053.75" y1="972.25" x2="1073.75" y2="937.25"/>
<line x1="1073.75" y1="937.25" x2="1101.25" y2="937.25"/>
<text stroke="none" x="1105.8" y="946.45">OBn</text>
<line x1="1072.5" y1="996.25" x2="1072.5" y2="1037.5"/>
<path d="M1054 1014.75 A2.47 2.85 0 0 1 1058.94 1014.75 A2.47 2.85 0 0 0 1063.88 1014.75 A2.47 2.85 0 0 1 1068.81 1014.75 A2.47 2.85 0 0 0 1073.75 1014.75 A2.47 2.85 0 0 1 1078.69 1014.75 A2.47 2.85 0 0 0 1083.62 1014.75 A2.47 2.85 0 0 1 1088.56 1014.75 A2.47 2.85 0 0 0 1093.5 1014.75" fill="none" stroke-width="1.2"/>
<text stroke="none" x="1020.5" y="1068.4" text-anchor="middle">&gt;99:1 <tspan font-family="'Liberation Serif', serif" font-size="24.5">α:β</tspan></text>
<text stroke="none" x="573.5" y="1145.55" text-anchor="middle">O</text>
<line x1="553.5" y1="1170.5" x2="514.75" y2="1160"/>
<line x1="514.75" y1="1160" x2="476" y2="1170.5"/>
<line x1="476" y1="1170.5" x2="496" y2="1136"/>
<line x1="567.13" y1="1147.5" x2="553.5" y2="1170.5"/>
<line x1="561.38" y1="1139.8" x2="534.75" y2="1146.5"/>
<line x1="534.75" y1="1146.5" x2="496" y2="1136"/>
<line x1="496" y1="1136" x2="471" y2="1136"/>
<text stroke="none" x="467.3" y="1145.2" text-anchor="end">AcO</text>
<line x1="476" y1="1170.5" x2="448.5" y2="1163.5"/>
<text stroke="none" x="445.3" y="1170.25" text-anchor="end">AcO</text>
<line x1="534.75" y1="1146.5" x2="554.75" y2="1111.5"/>
<line x1="554.75" y1="1111.5" x2="582.25" y2="1111.5"/>
<text stroke="none" x="586.8" y="1120.7">OAc</text>
<line x1="553.5" y1="1170.5" x2="553.5" y2="1211.75"/>
<path d="M535 1189 A2.47 2.85 0 0 1 539.94 1189 A2.47 2.85 0 0 0 544.88 1189 A2.47 2.85 0 0 1 549.81 1189 A2.47 2.85 0 0 0 554.75 1189 A2.47 2.85 0 0 1 559.69 1189 A2.47 2.85 0 0 0 564.62 1189 A2.47 2.85 0 0 1 569.56 1189 A2.47 2.85 0 0 0 574.5 1189" fill="none" stroke-width="1.2"/>
<text stroke="none" x="500.9" y="1241.4" text-anchor="middle">&gt;99:1 <tspan font-family="'Liberation Serif', serif" font-size="24.5">α:β</tspan></text>
<text stroke="none" x="865.5" y="1150.05" text-anchor="middle">O</text>
<line x1="845.5" y1="1175" x2="806.75" y2="1164.5"/>
<line x1="806.75" y1="1164.5" x2="768" y2="1175"/>
<line x1="768" y1="1175" x2="788" y2="1140.5"/>
<line x1="859.13" y1="1152" x2="845.5" y2="1175"/>
<line x1="853.38" y1="1144.3" x2="826.75" y2="1151"/>
<line x1="826.75" y1="1151" x2="788" y2="1140.5"/>
<line x1="806.75" y1="1164.5" x2="793.5" y2="1188"/>
<text stroke="none" x="794.8" y="1207.75" text-anchor="end">BnO</text>
<line x1="788" y1="1140.5" x2="788" y2="1111.75"/>
<text stroke="none" x="780.05" y="1108.5">OBn</text>
<line x1="768" y1="1175" x2="740.5" y2="1168"/>
<text stroke="none" x="737.3" y="1174.75" text-anchor="end">BnO</text>
<line x1="826.75" y1="1151" x2="846.75" y2="1116"/>
<line x1="846.75" y1="1116" x2="874.25" y2="1116"/>
<text stroke="none" x="878.8" y="1125.2">OBn</text>
<line x1="845.5" y1="1175" x2="887" y2="1168.75"/>
<path d="M862.5 1159.5 A2.35 2.85 70.6 0 1 864.06 1163.94 A2.35 2.85 70.6 0 0 865.62 1168.38 A2.35 2.85 70.6 0 1 867.19 1172.81 A2.35 2.85 70.6 0 0 868.75 1177.25 A2.35 2.85 70.6 0 1 870.31 1181.69 A2.35 2.85 70.6 0 0 871.88 1186.12 A2.35 2.85 70.6 0 1 873.44 1190.56 A2.35 2.85 70.6 0 0 875 1195" fill="none" stroke-width="1.2"/>
<text stroke="none" x="791.5" y="1246.4" text-anchor="middle">1:1 <tspan font-family="'Liberation Serif', serif" font-size="24.5">α:β</tspan></text>
<text stroke="none" x="1168.25" y="1147.55" text-anchor="middle">O</text>
<line x1="1148.25" y1="1172.5" x2="1109.5" y2="1162"/>
<line x1="1109.5" y1="1162" x2="1070.75" y2="1172.5"/>
<line x1="1070.75" y1="1172.5" x2="1090.75" y2="1138"/>
<line x1="1161.88" y1="1149.5" x2="1148.25" y2="1172.5"/>
<line x1="1156.13" y1="1141.8" x2="1129.5" y2="1148.5"/>
<line x1="1129.5" y1="1148.5" x2="1090.75" y2="1138"/>
<line x1="1109.5" y1="1162" x2="1096.25" y2="1185.5"/>
<text stroke="none" x="1097.55" y="1205.25" text-anchor="end">BnO</text>
<line x1="1090.75" y1="1138" x2="1062.95" y2="1138"/>
<text stroke="none" x="1059.25" y="1147.2" text-anchor="end">BnO</text>
<line x1="1070.75" y1="1172.5" x2="1043.25" y2="1165.5"/>
<text stroke="none" x="1040.05" y="1172.25" text-anchor="end">BnO</text>
<line x1="1129.5" y1="1148.5" x2="1149.5" y2="1113.5"/>
<line x1="1149.5" y1="1113.5" x2="1177" y2="1113.5"/>
<text stroke="none" x="1181.55" y="1122.7">OBn</text>
<line x1="1148.25" y1="1172.5" x2="1148.25" y2="1213.75"/>
<path d="M1129.75 1194.5 A2.47 2.85 0 0 1 1134.69 1194.5 A2.47 2.85 0 0 0 1139.62 1194.5 A2.47 2.85 0 0 1 1144.56 1194.5 A2.47 2.85 0 0 0 1149.5 1194.5 A2.47 2.85 0 0 1 1154.44 1194.5 A2.47 2.85 0 0 0 1159.38 1194.5 A2.47 2.85 0 0 1 1164.31 1194.5 A2.47 2.85 0 0 0 1169.25 1194.5" fill="none" stroke-width="1.2"/>
<text stroke="none" x="1094.5" y="1244.4" text-anchor="middle">2:1 <tspan font-family="'Liberation Serif', serif" font-size="24.5">α:β</tspan></text>
<line x1="161.75" y1="914.5" x2="161.75" y2="955.5"/>
<line x1="161.75" y1="955.5" x2="122.5" y2="965.75"/>
<text stroke="none" x="200" y="974.55" text-anchor="middle">O</text>
<text stroke="none" x="181.25" y="999.55" text-anchor="middle">O</text>
<text stroke="none" x="197" y="1015.8" text-anchor="middle">O</text>
<text stroke="none" x="279.5" y="974.05" text-anchor="middle">O</text>
<text stroke="none" x="301.25" y="982.05" text-anchor="middle">O</text>
<line x1="161.75" y1="955.5" x2="188" y2="962.5"/>
<line x1="161.75" y1="955.5" x2="175" y2="978.75"/>
<line x1="211.75" y1="962.5" x2="228.75" y2="958"/>
<line x1="193" y1="987.5" x2="208.75" y2="983.25"/>
<line x1="240" y1="957.5" x2="258.75" y2="990"/>
<line x1="258.75" y1="990" x2="222.5" y2="982.5"/>
<line x1="222.5" y1="982.5" x2="241.25" y2="1015"/>
<line x1="241.25" y1="1015" x2="280" y2="1005.5"/>
<line x1="280" y1="1005.5" x2="318.75" y2="1015"/>
<line x1="318.75" y1="1015" x2="302" y2="985"/>
<line x1="258.75" y1="990" x2="275.75" y2="986.5"/>
<line x1="284.5" y1="984.5" x2="293.5" y2="982.2"/>
<line x1="280" y1="1005.5" x2="280" y2="977.5"/>
<line x1="271.25" y1="956.25" x2="251.25" y2="936.25"/>
<line x1="251.25" y1="936.25" x2="222.5" y2="907"/>
<line x1="251.25" y1="936.25" x2="280.5" y2="907"/>
<line x1="251.25" y1="936.25" x2="206.25" y2="996.25"/>
<line x1="210" y1="1009.5" x2="241.25" y2="1015"/>
<line x1="318.75" y1="1015" x2="318.75" y2="1056.25"/>
<path d="M298.75 1033.75 A2.45 2.85 0 0 1 303.66 1033.75 A2.45 2.85 0 0 0 308.56 1033.75 A2.45 2.85 0 0 1 313.47 1033.75 A2.45 2.85 0 0 0 318.38 1033.75 A2.45 2.85 0 0 1 323.28 1033.75 A2.45 2.85 0 0 0 328.19 1033.75 A2.45 2.85 0 0 1 333.09 1033.75 A2.45 2.85 0 0 0 338 1033.75" fill="none" stroke-width="1.2"/>
<text stroke="none" x="214.5" y="1071.9" text-anchor="middle">&gt;99:1 <tspan font-family="'Liberation Serif', serif" font-size="24.5">α:β</tspan></text>
<line x1="1374.5" y1="913.75" x2="1374.5" y2="873"/>
<path d="M1353.25 891.25 A2.45 2.85 0 0 1 1358.16 891.25 A2.45 2.85 0 0 0 1363.06 891.25 A2.45 2.85 0 0 1 1367.97 891.25 A2.45 2.85 0 0 0 1372.88 891.25 A2.45 2.85 0 0 1 1377.78 891.25 A2.45 2.85 0 0 0 1382.69 891.25 A2.45 2.85 0 0 1 1387.59 891.25 A2.45 2.85 0 0 0 1392.5 891.25" fill="none" stroke-width="1.2"/>
<text stroke="none" x="1335.25" y="934.55" text-anchor="middle">O</text>
<line x1="1347.64" y1="922.31" x2="1374.5" y2="913.75"/>
<line x1="1322.86" y1="922.31" x2="1296" y2="913.75"/>
<line x1="1296" y1="913.75" x2="1259.5" y2="913.75"/>
<line x1="1296" y1="913.75" x2="1276.5" y2="948.75"/>
<line x1="1276.5" y1="948.75" x2="1314.5" y2="938.75"/>
<line x1="1314.5" y1="938.75" x2="1354" y2="948.75"/>
<line x1="1354" y1="948.75" x2="1374.5" y2="913.75"/>
<line x1="1276.5" y1="948.75" x2="1249.5" y2="942"/>
<text stroke="none" x="1245.35" y="947.6" text-anchor="end">BnO</text>
<text stroke="none" x="1294.5" y="982.8" text-anchor="middle">O</text>
<text stroke="none" x="1354" y="998.8" text-anchor="middle">O</text>
<line x1="1314.5" y1="938.75" x2="1301" y2="962.5"/>
<line x1="1354" y1="948.75" x2="1354" y2="977.5"/>
<line x1="1301.5" y1="983.75" x2="1317.75" y2="1001.25"/>
<line x1="1342" y1="995" x2="1317.75" y2="1001.25"/>
<line x1="1317.75" y1="1001.25" x2="1289" y2="1028.75"/>
<line x1="1317.75" y1="1001.25" x2="1327.75" y2="1039.5"/>
<text stroke="none" x="1287.5" y="1071.4" text-anchor="middle">&gt;99:1 <tspan font-family="'Liberation Serif', serif" font-size="24.5">α:β</tspan></text>
<text stroke="none" x="298" y="1128.3" text-anchor="middle">O</text>
<line x1="285.91" y1="1123.18" x2="260" y2="1130"/>
<line x1="291.69" y1="1130.79" x2="278.25" y2="1153.75"/>
<line x1="260" y1="1130" x2="220.5" y2="1118.75"/>
<line x1="220.5" y1="1118.75" x2="200.5" y2="1153.75"/>
<line x1="200.5" y1="1153.75" x2="239.5" y2="1143"/>
<line x1="239.5" y1="1143" x2="278.25" y2="1153.75"/>
<line x1="278.25" y1="1153.75" x2="319.5" y2="1150.75"/>
<path d="M297.5 1137 A2.45 2.85 90 0 1 297.5 1141.91 A2.45 2.85 90 0 0 297.5 1146.81 A2.45 2.85 90 0 1 297.5 1151.72 A2.45 2.85 90 0 0 297.5 1156.62 A2.45 2.85 90 0 1 297.5 1161.53 A2.45 2.85 90 0 0 297.5 1166.44 A2.45 2.85 90 0 1 297.5 1171.34 A2.45 2.85 90 0 0 297.5 1176.25" fill="none" stroke-width="1.2"/>
<text stroke="none" x="181.25" y="1138.3" text-anchor="middle">O</text>
<text stroke="none" x="200.5" y="1202.8" text-anchor="middle">O</text>
<line x1="220.5" y1="1118.75" x2="193" y2="1126.25"/>
<line x1="200.5" y1="1153.75" x2="200.5" y2="1182.5"/>
<line x1="180" y1="1141.75" x2="175" y2="1175"/>
<line x1="191" y1="1186.5" x2="175" y2="1175"/>
<line x1="175" y1="1175" x2="137" y2="1165"/>
<line x1="175" y1="1175" x2="147.5" y2="1204.25"/>
<text stroke="none" x="233.5" y="1240.9" text-anchor="middle">&gt;99:1 <tspan font-family="'Liberation Serif', serif" font-size="24.5">α:β</tspan></text>
<text stroke="none" x="148.5" y="1296.3" textLength="1265.5" lengthAdjust="spacing">R = Cy, <tspan font-style="italic" dy="0">c</tspan>C<tspan font-size="17.25" dy="5">4</tspan><tspan dy="-5">H</tspan><tspan font-size="17.25" dy="5">7</tspan><tspan dy="-5">, </tspan><tspan font-style="italic" dy="0">c</tspan>C<tspan font-size="17.25" dy="5">3</tspan><tspan dy="-5">H</tspan><tspan font-size="17.25" dy="5">5</tspan><tspan dy="-5">, 3-cyclopentenyl, 1-adamantyl, Ph(CH</tspan><tspan font-size="17.25" dy="5">2</tspan><tspan dy="-5">)</tspan><tspan font-size="17.25" dy="5">2</tspan><tspan dy="-5">, CH</tspan><tspan font-size="17.25" dy="5">2</tspan><tspan dy="-5">=CH(CH</tspan><tspan font-size="17.25" dy="5">2</tspan><tspan dy="-5">)</tspan><tspan font-size="17.25" dy="5">8</tspan><tspan dy="-5">, Me, Et, 4-PhC</tspan><tspan font-size="17.25" dy="5">6</tspan><tspan dy="-5">H</tspan><tspan font-size="17.25" dy="5">4</tspan><tspan dy="-5">CO(CH</tspan><tspan font-size="17.25" dy="5">2</tspan><tspan dy="-5">)</tspan><tspan font-size="17.25" dy="5">2</tspan><tspan dy="-5">, 4-MeOC</tspan><tspan font-size="17.25" dy="5">6</tspan><tspan dy="-5">H</tspan><tspan font-size="17.25" dy="5">4</tspan><tspan dy="-5">,</tspan></text>
<text stroke="none" x="194.3" y="1332.8" textLength="927" lengthAdjust="spacing">BnO<tspan font-size="17.25" dy="5">2</tspan><tspan dy="-5">CCH(NHBoc)CH(CH</tspan><tspan font-size="17.25" dy="5">2</tspan><tspan dy="-5">)</tspan><tspan font-size="17.25" dy="5">2</tspan><tspan dy="-5">, Ph, 2-MeC</tspan><tspan font-size="17.25" dy="5">6</tspan><tspan dy="-5">H</tspan><tspan font-size="17.25" dy="5">4</tspan><tspan dy="-5">, 3-MeOC</tspan><tspan font-size="17.25" dy="5">6</tspan><tspan dy="-5">H</tspan><tspan font-size="17.25" dy="5">4</tspan><tspan dy="-5">, 3-F</tspan><tspan font-size="17.25" dy="5">3</tspan><tspan dy="-5">CC</tspan><tspan font-size="17.25" dy="5">6</tspan><tspan dy="-5">H</tspan><tspan font-size="17.25" dy="5">4</tspan><tspan dy="-5">, 3,4-(OCH</tspan><tspan font-size="17.25" dy="5">2</tspan><tspan dy="-5">O)C</tspan><tspan font-size="17.25" dy="5">6</tspan><tspan dy="-5">H</tspan><tspan font-size="17.25" dy="5">3</tspan><tspan dy="-5">,</tspan></text>
<text stroke="none" x="1153" y="1390.8" text-anchor="middle">O</text>
<line x1="1153" y1="1370.5" x2="1153" y2="1340"/>
<line x1="1153" y1="1340" x2="1189" y2="1320"/>
<line x1="1189" y1="1320" x2="1223" y2="1340"/>
<line x1="1223" y1="1340" x2="1223" y2="1381.5"/>
<line x1="1223" y1="1381.5" x2="1189" y2="1401.5"/>
<line x1="1189" y1="1401.5" x2="1162.5" y2="1388"/>
<line x1="1223" y1="1340" x2="1257" y2="1320"/>
<path d="M1228 1314 A2.36 2.85 57.99 0 1 1230.5 1318 A2.36 2.85 57.99 0 0 1233 1322 A2.36 2.85 57.99 0 1 1235.5 1326 A2.36 2.85 57.99 0 0 1238 1330 A2.36 2.85 57.99 0 1 1240.5 1334 A2.36 2.85 57.99 0 0 1243 1338 A2.36 2.85 57.99 0 1 1245.5 1342 A2.36 2.85 57.99 0 0 1248 1346" fill="none" stroke-width="1.2"/>
<text stroke="none" x="1313.5" y="1391.5" text-anchor="end">TsN</text>
<line x1="1308" y1="1371" x2="1308" y2="1340"/>
<line x1="1308" y1="1340" x2="1343" y2="1320"/>
<line x1="1343" y1="1320" x2="1378" y2="1340"/>
<line x1="1378" y1="1340" x2="1378" y2="1381.5"/>
<line x1="1378" y1="1381.5" x2="1343" y2="1402.5"/>
<line x1="1343" y1="1402.5" x2="1320.5" y2="1389"/>
<line x1="1378" y1="1340" x2="1413" y2="1320"/>
<path d="M1383 1314 A2.44 2.85 54.89 0 1 1385.81 1318 A2.44 2.85 54.89 0 0 1388.62 1322 A2.44 2.85 54.89 0 1 1391.44 1326 A2.44 2.85 54.89 0 0 1394.25 1330 A2.44 2.85 54.89 0 1 1397.06 1334 A2.44 2.85 54.89 0 0 1399.88 1338 A2.44 2.85 54.89 0 1 1402.69 1342 A2.44 2.85 54.89 0 0 1405.5 1346" fill="none" stroke-width="1.2"/>
<text stroke="none" x="173.75" y="1476.3" text-anchor="middle">O</text>
<line x1="183.52" y1="1461.93" x2="208.75" y2="1446.25"/>
<line x1="173.75" y1="1508" x2="173.75" y2="1480.5"/>
<line x1="208.75" y1="1446.25" x2="243.75" y2="1467.5"/>
<line x1="243.75" y1="1467.5" x2="243.75" y2="1508"/>
<line x1="243.75" y1="1508" x2="208.75" y2="1528"/>
<line x1="208.75" y1="1528" x2="173.75" y2="1508"/>
<text stroke="none" x="216.25" y="1415.8" text-anchor="middle">O</text>
<text stroke="none" x="272.5" y="1448.8" text-anchor="middle">O</text>
<text stroke="none" x="272.5" y="1543.8" text-anchor="middle">O</text>
<text stroke="none" x="216.25" y="1576.3" text-anchor="middle">O</text>
<line x1="211.39" y1="1440.23" x2="208.82" y2="1439.68" stroke-width="1.3"/>
<line x1="213.72" y1="1433.73" x2="209.36" y2="1432.8" stroke-width="1.3"/>
<line x1="216.05" y1="1427.24" x2="209.91" y2="1425.92" stroke-width="1.3"/>
<line x1="218.38" y1="1420.74" x2="210.45" y2="1419.04" stroke-width="1.3"/>
<line x1="228" y1="1405.75" x2="257" y2="1403"/>
<line x1="257" y1="1403" x2="257" y2="1362"/>
<line x1="257" y1="1403" x2="292" y2="1382.5"/>
<line x1="257" y1="1403" x2="268" y2="1428.75"/>
<line x1="249.24" y1="1464.5" x2="247.53" y2="1462.52" stroke-width="1.3"/>
<line x1="254.77" y1="1460.94" x2="251.88" y2="1457.58" stroke-width="1.3"/>
<line x1="260.3" y1="1457.38" x2="256.22" y2="1452.64" stroke-width="1.3"/>
<line x1="265.83" y1="1453.82" x2="260.56" y2="1447.7" stroke-width="1.3"/>
<line x1="247.78" y1="1513.23" x2="249.5" y2="1511.25" stroke-width="1.3"/>
<line x1="252.36" y1="1518.42" x2="255.28" y2="1515.06" stroke-width="1.3"/>
<line x1="256.95" y1="1523.61" x2="261.07" y2="1518.86" stroke-width="1.3"/>
<line x1="261.54" y1="1528.8" x2="266.86" y2="1522.67" stroke-width="1.3"/>
<line x1="268" y1="1547" x2="257" y2="1572.5"/>
<line x1="257" y1="1572.5" x2="228" y2="1568.75"/>
<line x1="257" y1="1572.5" x2="292" y2="1592.5"/>
<line x1="257" y1="1572.5" x2="257" y2="1613"/>
<polygon points="208.75,1528 210.11,1555.67 217.39,1554.33" fill="#000" stroke="#000" stroke-width="0.5" stroke-linejoin="round"/>
<line x1="172.78" y1="1513.96" x2="174.72" y2="1513.96" stroke-width="1.3"/>
<line x1="172.22" y1="1520.31" x2="175.28" y2="1520.31" stroke-width="1.3"/>
<line x1="171.66" y1="1526.67" x2="175.84" y2="1526.67" stroke-width="1.3"/>
<line x1="171.1" y1="1533.03" x2="176.4" y2="1533.03" stroke-width="1.3"/>
<line x1="170.54" y1="1539.39" x2="176.96" y2="1539.39" stroke-width="1.3"/>
<line x1="169.98" y1="1545.74" x2="177.52" y2="1545.74" stroke-width="1.3"/>
<line x1="169.42" y1="1552.1" x2="178.08" y2="1552.1" stroke-width="1.3"/>
<text stroke="none" x="173.75" y="1573.3" text-anchor="middle">H</text>
<line x1="173.75" y1="1508" x2="159.6" y2="1515.6"/>
<line x1="148.9" y1="1522.1" x2="138.4" y2="1528.2"/>
<path d="M142.5 1494.5 A2.48 2.85 64.08 0 1 144.67 1498.96 A2.48 2.85 64.08 0 0 146.83 1503.42 A2.48 2.85 64.08 0 1 149 1507.88 A2.48 2.85 64.08 0 0 151.17 1512.33 A2.48 2.85 64.08 0 1 153.33 1516.79 A2.48 2.85 64.08 0 0 155.5 1521.25 A2.48 2.85 64.08 0 1 157.67 1525.71 A2.48 2.85 64.08 0 0 159.83 1530.17 A2.48 2.85 64.08 0 1 162 1534.62 A2.48 2.85 64.08 0 0 164.17 1539.08 A2.48 2.85 64.08 0 1 166.33 1543.54 A2.48 2.85 64.08 0 0 168.5 1548" fill="none" stroke-width="1.2"/>
<text stroke="none" x="359.5" y="1496.5" text-anchor="middle">(CH<tspan font-size="17.25" dy="5">2</tspan><tspan dy="-5">)</tspan><tspan font-size="17.25" dy="5">4</tspan></text>
<polygon points="427.5,1500.5 398.51,1488.44 396.49,1495.56" fill="#000" stroke="#000" stroke-width="0.5" stroke-linejoin="round"/>
<text stroke="none" x="439.5" y="1547.8" text-anchor="middle">S</text>
<line x1="427.5" y1="1500.5" x2="436.25" y2="1527.5"/>
<line x1="450" y1="1538.75" x2="480" y2="1538.75"/>
<line x1="480" y1="1538.75" x2="492" y2="1500.5"/>
<line x1="427.5" y1="1500.5" x2="459.5" y2="1476.25"/>
<line x1="459.5" y1="1476.25" x2="492" y2="1500.5"/>
<line x1="459.5" y1="1476.25" x2="467.5" y2="1452.5"/>
<text stroke="none" x="480.3" y="1447.7" text-anchor="end">BnN</text>
<line x1="482.5" y1="1438.75" x2="512" y2="1438.75"/>
<line x1="514.79" y1="1440.69" x2="532.29" y2="1415.44"/>
<line x1="509.21" y1="1436.81" x2="526.71" y2="1411.56"/>
<text stroke="none" x="535.75" y="1414.05" text-anchor="middle">O</text>
<line x1="512" y1="1438.75" x2="520.5" y2="1463.75"/>
<text stroke="none" x="515.5" y="1486.2">NBn</text>
<line x1="513" y1="1486.25" x2="492" y2="1500.5"/>
<line x1="453.63" y1="1471.66" x2="452.26" y2="1474.52" stroke-width="1.3"/>
<line x1="447.24" y1="1467.25" x2="444.82" y2="1472.27" stroke-width="1.3"/>
<line x1="440.84" y1="1462.84" x2="437.38" y2="1470.01" stroke-width="1.3"/>
<text stroke="none" x="426.75" y="1468.3" text-anchor="middle">H</text>
<line x1="495.98" y1="1505.5" x2="497.65" y2="1503.49" stroke-width="1.3"/>
<line x1="500.53" y1="1510.45" x2="503.36" y2="1507.04" stroke-width="1.3"/>
<line x1="505.07" y1="1515.41" x2="509.07" y2="1510.58" stroke-width="1.3"/>
<line x1="509.61" y1="1520.36" x2="514.77" y2="1514.13" stroke-width="1.3"/>
<text stroke="none" x="524.5" y="1533.3" text-anchor="middle">H</text>
<line x1="834.25" y1="1466.25" x2="868.75" y2="1486.25"/>
<line x1="868.75" y1="1486.25" x2="868.75" y2="1527"/>
<line x1="868.75" y1="1527" x2="834.25" y2="1547"/>
<line x1="834.25" y1="1547" x2="799.5" y2="1527"/>
<line x1="799.5" y1="1527" x2="799.5" y2="1486.25"/>
<line x1="799.5" y1="1486.25" x2="834.25" y2="1466.25"/>
<line x1="807" y1="1490.5" x2="807" y2="1523"/>
<line x1="837.5" y1="1475" x2="862.5" y2="1489.7"/>
<line x1="837.5" y1="1538.3" x2="862.5" y2="1523.5"/>
<line x1="834.25" y1="1466.25" x2="834.25" y2="1424.5"/>
<line x1="799.5" y1="1486.25" x2="776.25" y2="1472.5"/>
<text stroke="none" x="747" y="1474.7" text-anchor="middle">MeO</text>
<line x1="799.5" y1="1527" x2="764.5" y2="1547"/>
<line x1="764.5" y1="1547" x2="730" y2="1527"/>
<line x1="730" y1="1527" x2="695" y2="1547"/>
<line x1="695" y1="1547" x2="695" y2="1587.5"/>
<line x1="731.25" y1="1535" x2="701.25" y2="1552.3"/>
<line x1="695" y1="1547" x2="668.75" y2="1531.5"/>
<text stroke="none" x="630" y="1537.5" text-anchor="middle">(CH<tspan font-size="17.25" dy="5">2</tspan><tspan dy="-5">)</tspan><tspan font-size="17.25" dy="5">2</tspan></text>
<line x1="834.25" y1="1547" x2="834.25" y2="1575"/>
<text stroke="none" x="824" y="1595.5">OAc</text>
<line x1="868.75" y1="1486.25" x2="907.5" y2="1473.75"/>
<line x1="910.73" y1="1474.82" x2="919.43" y2="1448.57"/>
<line x1="904.27" y1="1472.68" x2="912.97" y2="1446.43"/>
<text stroke="none" x="919.25" y="1444.05" text-anchor="middle">O</text>
<text stroke="none" x="930" y="1515.3" text-anchor="middle">O</text>
<line x1="922.99" y1="1496.65" x2="907.5" y2="1473.75"/>
<line x1="922.77" y1="1517.2" x2="907.5" y2="1538.75"/>
<line x1="907.5" y1="1538.75" x2="868.75" y2="1527"/>
<text stroke="none" x="1010.5" y="1508" text-anchor="middle">(CH<tspan font-size="17.25" dy="5">2</tspan><tspan dy="-5">)</tspan><tspan font-size="17.25" dy="5">2</tspan></text>
<line x1="1045" y1="1496.5" x2="1075" y2="1479.5"/>
<polygon points="1075,1479.5 1078.7,1438.75 1071.3,1438.75" fill="#000" stroke="#000" stroke-width="0.5" stroke-linejoin="round"/>
<line x1="1075" y1="1479.5" x2="1109.5" y2="1499.5"/>
<line x1="1109.5" y1="1499.5" x2="1149.5" y2="1490.75"/>
<line x1="1107.94" y1="1505.77" x2="1110.04" y2="1505.94" stroke-width="1.3"/>
<line x1="1106.76" y1="1512.47" x2="1110.14" y2="1512.74" stroke-width="1.3"/>
<line x1="1105.57" y1="1519.16" x2="1110.24" y2="1519.54" stroke-width="1.3"/>
<line x1="1104.39" y1="1525.86" x2="1110.34" y2="1526.34" stroke-width="1.3"/>
<line x1="1103.21" y1="1532.56" x2="1110.44" y2="1533.14" stroke-width="1.3"/>
<line x1="1102.02" y1="1539.26" x2="1110.54" y2="1539.94" stroke-width="1.3"/>
<line x1="1106.25" y1="1540" x2="1142.5" y2="1556.25"/>
<line x1="1142.5" y1="1556.25" x2="1169.5" y2="1526.75"/>
<line x1="1169.5" y1="1526.75" x2="1149.5" y2="1490.75"/>
<line x1="1149.5" y1="1490.75" x2="1169.5" y2="1455.75"/>
<line x1="1169.5" y1="1455.75" x2="1209.5" y2="1455.75"/>
<line x1="1209.5" y1="1455.75" x2="1229.5" y2="1491.25"/>
<line x1="1229.5" y1="1491.25" x2="1209.5" y2="1526.75"/>
<line x1="1209.5" y1="1526.75" x2="1169.5" y2="1526.75"/>
<line x1="1209.5" y1="1526.75" x2="1229.5" y2="1561.75"/>
<line x1="1229.5" y1="1561.75" x2="1269.5" y2="1561.75"/>
<line x1="1269.5" y1="1561.75" x2="1289.5" y2="1526.75"/>
<line x1="1289.5" y1="1526.75" x2="1269.5" y2="1491.25"/>
<line x1="1269.5" y1="1491.25" x2="1229.5" y2="1491.25"/>
<line x1="1269.5" y1="1491.25" x2="1289.5" y2="1455.75"/>
<line x1="1289.5" y1="1455.75" x2="1330" y2="1455.75"/>
<line x1="1330" y1="1455.75" x2="1350" y2="1491.25"/>
<line x1="1350" y1="1491.25" x2="1330" y2="1526.75"/>
<line x1="1330" y1="1526.75" x2="1289.5" y2="1526.75"/>
<polygon points="1149.5,1490.75 1137.43,1468.99 1131.57,1473.51" fill="#000" stroke="#000" stroke-width="0.5" stroke-linejoin="round"/>
<text stroke="none" x="1125.75" y="1467.05" text-anchor="middle">H</text>
<polygon points="1169.5,1526.75 1176.63,1551.52 1183.37,1548.48" fill="#000" stroke="#000" stroke-width="0.5" stroke-linejoin="round"/>
<text stroke="none" x="1185.5" y="1572.55" text-anchor="middle">H</text>
<line x1="1207.52" y1="1520.69" x2="1205.25" y2="1522" stroke-width="1.3"/>
<line x1="1205" y1="1514.49" x2="1201.15" y2="1516.7" stroke-width="1.3"/>
<line x1="1202.48" y1="1508.28" x2="1197.05" y2="1511.41" stroke-width="1.3"/>
<line x1="1199.95" y1="1502.08" x2="1192.95" y2="1506.11" stroke-width="1.3"/>
<text stroke="none" x="1189.5" y="1500.05" text-anchor="middle">H</text>
<line x1="1231.73" y1="1497.52" x2="1233.98" y2="1496.17" stroke-width="1.3"/>
<line x1="1234.51" y1="1503.93" x2="1238.33" y2="1501.63" stroke-width="1.3"/>
<line x1="1237.28" y1="1510.34" x2="1242.68" y2="1507.1" stroke-width="1.3"/>
<line x1="1240.06" y1="1516.75" x2="1247.03" y2="1512.57" stroke-width="1.3"/>
<text stroke="none" x="1249.5" y="1535.05" text-anchor="middle">H</text>
<line x1="1267.28" y1="1485.16" x2="1265.44" y2="1486.2" stroke-width="1.3"/>
<line x1="1264.51" y1="1478.93" x2="1261.55" y2="1480.6" stroke-width="1.3"/>
<line x1="1261.74" y1="1472.7" x2="1257.66" y2="1475" stroke-width="1.3"/>
<line x1="1258.96" y1="1466.47" x2="1253.76" y2="1469.4" stroke-width="1.3"/>
<line x1="1256.19" y1="1460.23" x2="1249.87" y2="1463.8" stroke-width="1.3"/>
<line x1="1253.42" y1="1454" x2="1245.97" y2="1458.2" stroke-width="1.3"/>
<line x1="1224.83" y1="1566.85" x2="1227.08" y2="1568.22" stroke-width="1.3"/>
<line x1="1220.3" y1="1572.49" x2="1224.12" y2="1574.83" stroke-width="1.3"/>
<line x1="1215.76" y1="1578.13" x2="1221.15" y2="1581.43" stroke-width="1.3"/>
<line x1="1211.23" y1="1583.78" x2="1218.19" y2="1588.04" stroke-width="1.3"/>
<text stroke="none" x="1195" y="1605.5" text-anchor="middle">AcO</text>
<line x1="1291.74" y1="1532.91" x2="1293.97" y2="1531.54" stroke-width="1.3"/>
<line x1="1294.52" y1="1539.2" x2="1298.31" y2="1536.87" stroke-width="1.3"/>
<line x1="1297.3" y1="1545.49" x2="1302.66" y2="1542.21" stroke-width="1.3"/>
<line x1="1300.08" y1="1551.78" x2="1307" y2="1547.54" stroke-width="1.3"/>
<text stroke="none" x="1309.6" y="1571" text-anchor="middle">H</text>
<polygon points="1350,1491.25 1378,1494.95 1378,1487.55" fill="#000" stroke="#000" stroke-width="0.5" stroke-linejoin="round"/>
<text stroke="none" x="1380.5" y="1499.3">OAc</text>
<text stroke="none" x="240.8" y="1726.7" text-anchor="middle">O</text>
<line x1="250.42" y1="1723.8" x2="273.6" y2="1739"/>
<line x1="273.6" y1="1739" x2="266.8" y2="1778.2"/>
<line x1="266.8" y1="1778.2" x2="221.3" y2="1778.2"/>
<line x1="221.3" y1="1778.2" x2="208.5" y2="1739.4"/>
<line x1="208.5" y1="1739.4" x2="231.28" y2="1723.95"/>
<line x1="195.8" y1="1764.2" x2="234.8" y2="1753.3"/>
<text stroke="none" x="165.5" y="1777.1" text-anchor="middle">PGO</text>
<text stroke="none" x="248.6" y="1786.7">(</text>
<text stroke="none" x="269" y="1786.7">)</text>
<text stroke="none" x="276.5" y="1791" font-size="17.25">n</text>
<text stroke="none" x="273.5" y="1709.6" text-anchor="middle">O</text>
<line x1="273.6" y1="1739" x2="273.5" y2="1712.9"/>
<line x1="283.74" y1="1695.17" x2="318.3" y2="1677.5"/>
<line x1="321.5" y1="1677.5" x2="321.5" y2="1650"/>
<line x1="314.5" y1="1677.5" x2="314.5" y2="1650"/>
<text stroke="none" x="317.3" y="1646.2" text-anchor="middle">O</text>
<line x1="318.3" y1="1677.5" x2="362.1" y2="1697"/>
<line x1="362.1" y1="1697" x2="397.2" y2="1677.5"/>
<line x1="362.1" y1="1697" x2="362.1" y2="1738.1"/>
<line x1="397.2" y1="1677.5" x2="432.5" y2="1697"/>
<line x1="398.79" y1="1685.46" x2="424.91" y2="1699.89"/>
<line x1="362.1" y1="1738.1" x2="397.2" y2="1758.4"/>
<line x1="369.77" y1="1735.37" x2="395.74" y2="1750.39"/>
<line x1="432.5" y1="1697" x2="432.5" y2="1726.6"/>
<line x1="420.8" y1="1744.83" x2="397.2" y2="1758.4"/>
<line x1="397.2" y1="1758.4" x2="397.2" y2="1798.8"/>
<line x1="397.2" y1="1677.5" x2="397.2" y2="1650.5"/>
<text stroke="none" x="388" y="1646.4">CO<tspan font-size="17.25" dy="5">2</tspan><tspan dy="-5">Et</tspan></text>
<line x1="362.1" y1="1738.1" x2="347.81" y2="1746.35"/>
<text stroke="none" x="346.6" y="1768.7" text-anchor="end">EtO<tspan font-size="17.25" dy="5">2</tspan><tspan dy="-5">C</tspan></text>
<text stroke="none" x="424.2" y="1747.3">NH</text>
<line x1="432.5" y1="1697" x2="467.3" y2="1677.5"/>
<text stroke="none" x="336.9" y="1840.9" text-anchor="middle" font-weight="bold">37</text>
<text stroke="none" x="190.7" y="1987" text-anchor="middle">O</text>
<line x1="200.32" y1="1984.1" x2="223.5" y2="1999.3"/>
<line x1="223.5" y1="1999.3" x2="216.7" y2="2038.5"/>
<line x1="216.7" y1="2038.5" x2="171.2" y2="2038.5"/>
<line x1="171.2" y1="2038.5" x2="158.4" y2="1999.7"/>
<line x1="158.4" y1="1999.7" x2="181.18" y2="1984.25"/>
<line x1="145.7" y1="2024.5" x2="184.7" y2="2013.6"/>
<text stroke="none" x="115.4" y="2037.4" text-anchor="middle">PGO</text>
<text stroke="none" x="198.5" y="2047">(</text>
<text stroke="none" x="218.9" y="2047">)</text>
<text stroke="none" x="226.4" y="2051.3" font-size="17.25">n</text>
<text stroke="none" x="223.4" y="1969.9" text-anchor="middle">O</text>
<line x1="223.5" y1="1999.3" x2="223.4" y2="1973.2"/>
<line x1="233.64" y1="1955.47" x2="268.2" y2="1937.8"/>
<line x1="271.4" y1="1937.8" x2="271.4" y2="1910.3"/>
<line x1="264.4" y1="1937.8" x2="264.4" y2="1910.3"/>
<text stroke="none" x="267.2" y="1906.5" text-anchor="middle">O</text>
<line x1="268.2" y1="1937.8" x2="312" y2="1957.3"/>
<line x1="312" y1="1957.3" x2="347.1" y2="1937.8"/>
<line x1="312" y1="1957.3" x2="312" y2="1998.4"/>
<line x1="347.1" y1="1937.8" x2="382.4" y2="1957.3"/>
<line x1="348.69" y1="1945.76" x2="374.81" y2="1960.19"/>
<line x1="312" y1="1998.4" x2="347.1" y2="2018.7"/>
<line x1="319.67" y1="1995.67" x2="345.64" y2="2010.69"/>
<line x1="382.4" y1="1957.3" x2="382.4" y2="1986.9"/>
<line x1="370.7" y1="2005.13" x2="347.1" y2="2018.7"/>
<line x1="347.1" y1="2018.7" x2="347.1" y2="2059.1"/>
<line x1="347.1" y1="1937.8" x2="347.1" y2="1910.8"/>
<text stroke="none" x="337.9" y="1906.7">CO<tspan font-size="17.25" dy="5">2</tspan><tspan dy="-5">Et</tspan></text>
<line x1="312" y1="1998.4" x2="297.71" y2="2006.65"/>
<text stroke="none" x="296.5" y="2029" text-anchor="end">EtO<tspan font-size="17.25" dy="5">2</tspan><tspan dy="-5">C</tspan></text>
<text stroke="none" x="382.4" y="2007.6" text-anchor="middle">N</text>
<circle cx="393.1" cy="1991.9" r="2.3" fill="#000" stroke="none"/>
<text stroke="none" x="164.1" y="2223.4" text-anchor="middle">N</text>
<line x1="93.7" y1="2172.8" x2="128.7" y2="2152.5"/>
<line x1="128.7" y1="2152.5" x2="164.1" y2="2172.8"/>
<line x1="130.22" y1="2160.52" x2="156.41" y2="2175.54"/>
<line x1="164.1" y1="2172.8" x2="164.1" y2="2202.2"/>
<line x1="93.7" y1="2172.8" x2="93.7" y2="2214.2"/>
<line x1="101.2" y1="2177.77" x2="101.2" y2="2209.23"/>
<line x1="93.7" y1="2214.2" x2="128.7" y2="2234.4"/>
<line x1="152.81" y1="2220.64" x2="128.7" y2="2234.4"/>
<line x1="149.5" y1="2213.8" x2="128.2" y2="2226.2"/>
<line x1="128.7" y1="2234.4" x2="128.7" y2="2274.5"/>
<line x1="164.1" y1="2172.8" x2="198.8" y2="2152.5"/>
<line x1="128.7" y1="2152.5" x2="128.7" y2="2125.6"/>
<text stroke="none" x="119.5" y="2121.4">CO<tspan font-size="17.25" dy="5">2</tspan><tspan dy="-5">Et</tspan></text>
<line x1="93.7" y1="2214.2" x2="69.1" y2="2228.4"/>
<text stroke="none" x="0.5" y="2243.9">EtO<tspan font-size="17.25" dy="5">2</tspan><tspan dy="-5">C</tspan></text>
<text stroke="none" x="0.5" y="2187.2">CO<tspan font-size="17.25" dy="5">2</tspan><tspan dy="-5">,</tspan></text>
<line x1="272.9" y1="2084.7" x2="272.9" y2="2226" stroke-width="1.2"/>
<polygon points="272.9,2234.7 269.3,2222.7 272.9,2225.1 276.5,2222.7" fill="#000" stroke="none"/>
<polygon points="203.51,2177.45 213.66,2177.87 210.97,2179.84 212.02,2183.01" fill="#000" stroke="none"/>
<path d="M273.71 2141.37 A51.2 51.2 0 0 1 209.97 2179.73" fill="none" stroke-width="1.2"/>
<text stroke="none" x="272.9" y="2303.3" text-anchor="middle">O</text>
<line x1="282.52" y1="2300.4" x2="305.7" y2="2315.6"/>
<line x1="305.7" y1="2315.6" x2="298.9" y2="2354.8"/>
<line x1="298.9" y1="2354.8" x2="253.4" y2="2354.8"/>
<line x1="253.4" y1="2354.8" x2="240.6" y2="2316"/>
<line x1="240.6" y1="2316" x2="263.38" y2="2300.55"/>
<line x1="227.9" y1="2340.8" x2="266.9" y2="2329.9"/>
<text stroke="none" x="197.6" y="2353.7" text-anchor="middle">PGO</text>
<text stroke="none" x="280.7" y="2363.3">(</text>
<text stroke="none" x="301.1" y="2363.3">)</text>
<text stroke="none" x="308.6" y="2367.6" font-size="17.25">n</text>
<circle cx="313.3" cy="2316.6" r="2.3" fill="#000" stroke="none"/>
<text stroke="none" x="251" y="2405.4" text-anchor="middle" font-weight="bold">A</text>
<text stroke="none" x="648.5" y="1749.9">PC*</text>
<text stroke="none" x="806" y="1997.9">PC</text>
<text stroke="none" x="472" y="2011.9">PC</text>
<circle cx="510.8" cy="2002.6" r="2.4" fill="#000" stroke="none"/>
<line x1="507.2" y1="1995" x2="516.8" y2="1995" stroke-width="1.3"/>
<text stroke="none" x="623.5" y="2192.9">Ni<tspan font-size="17.25" dy="-8">I</tspan><tspan dy="8">Br</tspan></text>
<text stroke="none" x="775.5" y="2130.4">Ni<tspan font-size="17.25" dy="-8">0</tspan></text>
<polygon points="479.34,1960.42 474.33,1950.4 477.68,1951.94 480.21,1949.25" fill="#000" stroke="none"/>
<path d="M607.47 1742.33 A184.9 184.9 0 0 0 477.83 1953.02" fill="none" stroke-width="1.2"/>
<polygon points="704.29,1741.07 715.48,1741.73 712.46,1743.87 713.53,1747.41" fill="#000" stroke="none"/>
<path d="M833.95 1947.64 A187.4 187.4 0 0 0 711.46 1743.46" fill="none" stroke-width="1.2"/>
<polygon points="826.14,1948.39 824.55,1937.3 827.25,1939.82 830.5,1938.06" fill="#000" stroke="none"/>
<path d="M702.26 1748.4 A179.8 179.8 0 0 1 827.18 1940.9" fill="none" stroke-width="1.2"/>
<polygon points="502.35,1823.61 502.83,1812.41 505.02,1815.39 508.54,1814.26" fill="#000" stroke="none"/>
<path d="M474.22 1743.94 A62.7 62.7 0 0 1 504.87 1816.48" fill="none" stroke-width="1.2"/>
<polygon points="395.15,1932.73 406.34,1932.16 403.58,1934.62 405.03,1938.02" fill="#000" stroke="none"/>
<path d="M476.79 1889.86 A65.1 65.1 0 0 1 402.48 1934.56" fill="none" stroke-width="1.2"/>
<polygon points="805.37,2023.89 801.18,2034.28 800.11,2030.74 796.42,2030.63" fill="#000" stroke="none"/>
<path d="M514.97 2036.47 A185.2 185.2 0 0 0 800.82 2029.93" fill="none" stroke-width="1.2"/>
<polygon points="762.07,2111.74 751.69,2107.51 755.24,2106.45 755.37,2102.76" fill="#000" stroke="none"/>
<path d="M640.99 2162.16 A72.6 72.6 0 0 1 756.2 2106.99" fill="none" stroke-width="1.2"/>
<g stroke="none"><path d="M854.5 1763.6 C845 1763.2 837.6 1770 837.8 1780.5 C838 1784 840 1787 846.8 1801.5 L862 1801.5 C868 1788 870.6 1784 871 1779.8 C871.3 1770 864.5 1763.8 854.5 1763.6Z" fill="#5c5cff"/><path d="M861 1769.6 C850 1765.8 840.5 1772.5 841.8 1782.5 C843 1790 848 1794.5 849.6 1800.8 L853 1800.8 C851.5 1794 846.8 1789.5 846.3 1781.5 C846 1774 852.5 1768.8 861 1769.6Z" fill="#0000ff"/><path d="M846.8 1801.3 L861.6 1801.3 L861.4 1814 L853.7 1818.6 L846.9 1814Z" fill="#0000a0"/></g>
<path d="M812.2 1829.6 " fill="none"/>
<path d="M812.6 1829.4 A2.45 2.85 -62.65 0 1 814.85 1825.05 A2.45 2.85 -62.65 0 0 817.1 1820.7 A2.45 2.85 -62.65 0 1 819.35 1816.35 A2.45 2.85 -62.65 0 0 821.6 1812 A2.45 2.85 -62.65 0 1 823.85 1807.65 A2.45 2.85 -62.65 0 0 826.1 1803.3 A2.45 2.85 -62.65 0 1 828.35 1798.95 A2.45 2.85 -62.65 0 0 830.6 1794.6" fill="none" stroke-width="1.2"/>
<text stroke="none" x="919.3" y="1969.4" text-anchor="middle" font-weight="bold">A</text>
<polygon points="936.55,2017.75 940.39,2007.22 941.57,2010.72 945.27,2010.71" fill="#000" stroke="none"/>
<path d="M935.15 1971.74 A31.4 31.4 0 0 1 941.25 2011.85" fill="none" stroke-width="1.2"/>
<polygon points="911.78,2062.91 912.96,2051.76 914.96,2054.87 918.54,2053.97" fill="#000" stroke="none"/>
<path d="M998.85 1968.09 A165.6 165.6 0 0 0 914.49 2055.85" fill="none" stroke-width="1.2"/>
<text stroke="none" x="1018.3" y="1960.2">EtO</text>
<line x1="1059.5" y1="1955.8" x2="1068.2" y2="1961.9"/>
<text stroke="none" x="1067.5" y="1980.4">Ni<tspan font-size="17.25" dy="-8">II</tspan></text>
<line x1="1102.6" y1="1959.2" x2="1118.8" y2="1950.1"/>
<line x1="1122.5" y1="1950.1" x2="1122.5" y2="1922.5"/>
<line x1="1115.3" y1="1950.1" x2="1115.3" y2="1922.5"/>
<text stroke="none" x="1118.8" y="1920.2" text-anchor="middle">O</text>
<line x1="1118.8" y1="1950.1" x2="1141.3" y2="1963.2"/>
<text stroke="none" x="1153.6" y="1980.4" text-anchor="middle">R</text>
<text stroke="none" x="1097.5" y="2020.2" text-anchor="middle" font-weight="bold">B</text>
<polygon points="1177.39,1970.34 1188.24,1973.15 1184.87,1974.66 1185.24,1978.34" fill="#000" stroke="none"/>
<path d="M1267.78 2078.31 A190.7 190.7 0 0 0 1183.96 1974.07" fill="none" stroke-width="1.2"/>
<polygon points="1249.83,1962.96 1243.99,1972.53 1243.52,1968.86 1239.89,1968.15" fill="#000" stroke="none"/>
<path d="M1300.05 2035.43 A44.1 44.1 0 0 1 1244.13 1967.91" fill="none" stroke-width="1.2"/>
<text stroke="none" x="1256.3" y="1961.9">CO<tspan font-size="17.25" dy="5">2</tspan></text>
<text stroke="none" x="1327.5" y="2041.4" text-anchor="middle">R</text>
<line x1="1337.2" y1="2025.6" x2="1360.9" y2="2012.1"/>
<line x1="1365.3" y1="2012.1" x2="1365.3" y2="1984"/>
<line x1="1358.1" y1="2012.1" x2="1358.1" y2="1984"/>
<text stroke="none" x="1361.5" y="1980.8" text-anchor="middle">O</text>
<line x1="1360.9" y1="2012.1" x2="1386.3" y2="2026.9"/>
<text stroke="none" x="1396.5" y="2042.3" text-anchor="middle">O</text>
<line x1="1406.7" y1="2026.9" x2="1431.5" y2="2012.1"/>
<line x1="1435.4" y1="2012.1" x2="1435.4" y2="1984"/>
<line x1="1428.2" y1="2012.1" x2="1428.2" y2="1984"/>
<text stroke="none" x="1431.5" y="1980.8" text-anchor="middle">O</text>
<line x1="1431.5" y1="2012.1" x2="1456.3" y2="2026.9"/>
<text stroke="none" x="1457.3" y="2041.4">OEt</text>
<text stroke="none" x="1269" y="2140.4">Ni<tspan font-size="17.25" dy="-8">0</tspan></text>
<text stroke="none" x="915.8" y="2101.6" text-anchor="middle">O</text>
<line x1="919.6" y1="2132.5" x2="919.6" y2="2105.5"/>
<line x1="912.4" y1="2132.5" x2="912.4" y2="2105.5"/>
<line x1="915.8" y1="2132.5" x2="892.2" y2="2146"/>
<text stroke="none" x="881.2" y="2161.4" text-anchor="middle">R</text>
<line x1="915.8" y1="2132.5" x2="935" y2="2151"/>
<text stroke="none" x="936" y="2171.4">Ni<tspan font-size="17.25" dy="-8">III</tspan><tspan dy="8">Br</tspan></text>
<text stroke="none" x="911.5" y="2189" text-anchor="middle">O</text>
<line x1="921.12" y1="2186.1" x2="944.3" y2="2201.3"/>
<line x1="944.3" y1="2201.3" x2="937.5" y2="2240.5"/>
<line x1="937.5" y1="2240.5" x2="892" y2="2240.5"/>
<line x1="892" y1="2240.5" x2="879.2" y2="2201.7"/>
<line x1="879.2" y1="2201.7" x2="901.98" y2="2186.25"/>
<line x1="866.5" y1="2226.5" x2="905.5" y2="2215.6"/>
<text stroke="none" x="836.2" y="2239.4" text-anchor="middle">PGO</text>
<text stroke="none" x="919.3" y="2249">(</text>
<text stroke="none" x="939.7" y="2249">)</text>
<text stroke="none" x="947.2" y="2253.3" font-size="17.25">n</text>
<line x1="944.3" y1="2201.3" x2="944.3" y2="2176.5"/>
<text stroke="none" x="897.3" y="2293.6" text-anchor="middle" font-weight="bold">C</text>
<polygon points="1047.02,2330.21 1035.83,2330.87 1038.57,2328.39 1037.09,2325.01" fill="#000" stroke="none"/>
<path d="M945.67 2276.13 A190.2 190.2 0 0 0 1039.61 2328.69" fill="none" stroke-width="1.2"/>
<polygon points="980.8,2354.5 984.76,2344.02 985.91,2347.53 989.6,2347.56" fill="#000" stroke="none"/>
<path d="M981.59 2303.72 A36.7 36.7 0 0 1 985.53 2348.62" fill="none" stroke-width="1.2"/>
<text stroke="none" x="1068" y="2343.4">Ni<tspan font-size="17.25" dy="-8">I</tspan><tspan dy="8">Br</tspan></text>
<text stroke="none" x="888.6" y="2387.8" text-anchor="middle">O</text>
<line x1="898.22" y1="2384.9" x2="921.4" y2="2400.1"/>
<line x1="921.4" y1="2400.1" x2="914.6" y2="2439.3"/>
<line x1="914.6" y1="2439.3" x2="869.1" y2="2439.3"/>
<line x1="869.1" y1="2439.3" x2="856.3" y2="2400.5"/>
<line x1="856.3" y1="2400.5" x2="879.08" y2="2385.05"/>
<line x1="843.6" y1="2425.3" x2="882.6" y2="2414.4"/>
<text stroke="none" x="813.3" y="2438.2" text-anchor="middle">PGO</text>
<text stroke="none" x="896.4" y="2447.8">(</text>
<text stroke="none" x="916.8" y="2447.8">)</text>
<text stroke="none" x="924.3" y="2452.1" font-size="17.25">n</text>
<line x1="921.4" y1="2400.1" x2="921.4" y2="2375.2"/>
<text stroke="none" x="912.5" y="2370.4">COR</text>
<text stroke="none" x="868.3" y="2491.4" text-anchor="middle" font-weight="bold">342</text>
<polygon points="1275.67,2165.31 1277.26,2176.4 1274.56,2173.88 1271.31,2175.63" fill="#000" stroke="none"/>
<path d="M1148.27 2324.81 A187.9 187.9 0 0 0 1274.76 2172.81" fill="none" stroke-width="1.2"/>
<polygon points="1332.41,2258.19 1322.23,2253.49 1325.82,2252.6 1326.12,2248.92" fill="#000" stroke="none"/>
<path d="M1241.79 2349.99 A64.5 64.5 0 0 1 1326.77 2253.16" fill="none" stroke-width="1.2"/>
<text stroke="none" x="1336.3" y="2283.9">PC, Br</text>
<line x1="1406.5" y1="2266.3" x2="1416.7" y2="2266.3" stroke-width="1.3"/>
<text stroke="none" x="1245.8" y="2374.4">PC*</text>
</svg>
</body></html>
